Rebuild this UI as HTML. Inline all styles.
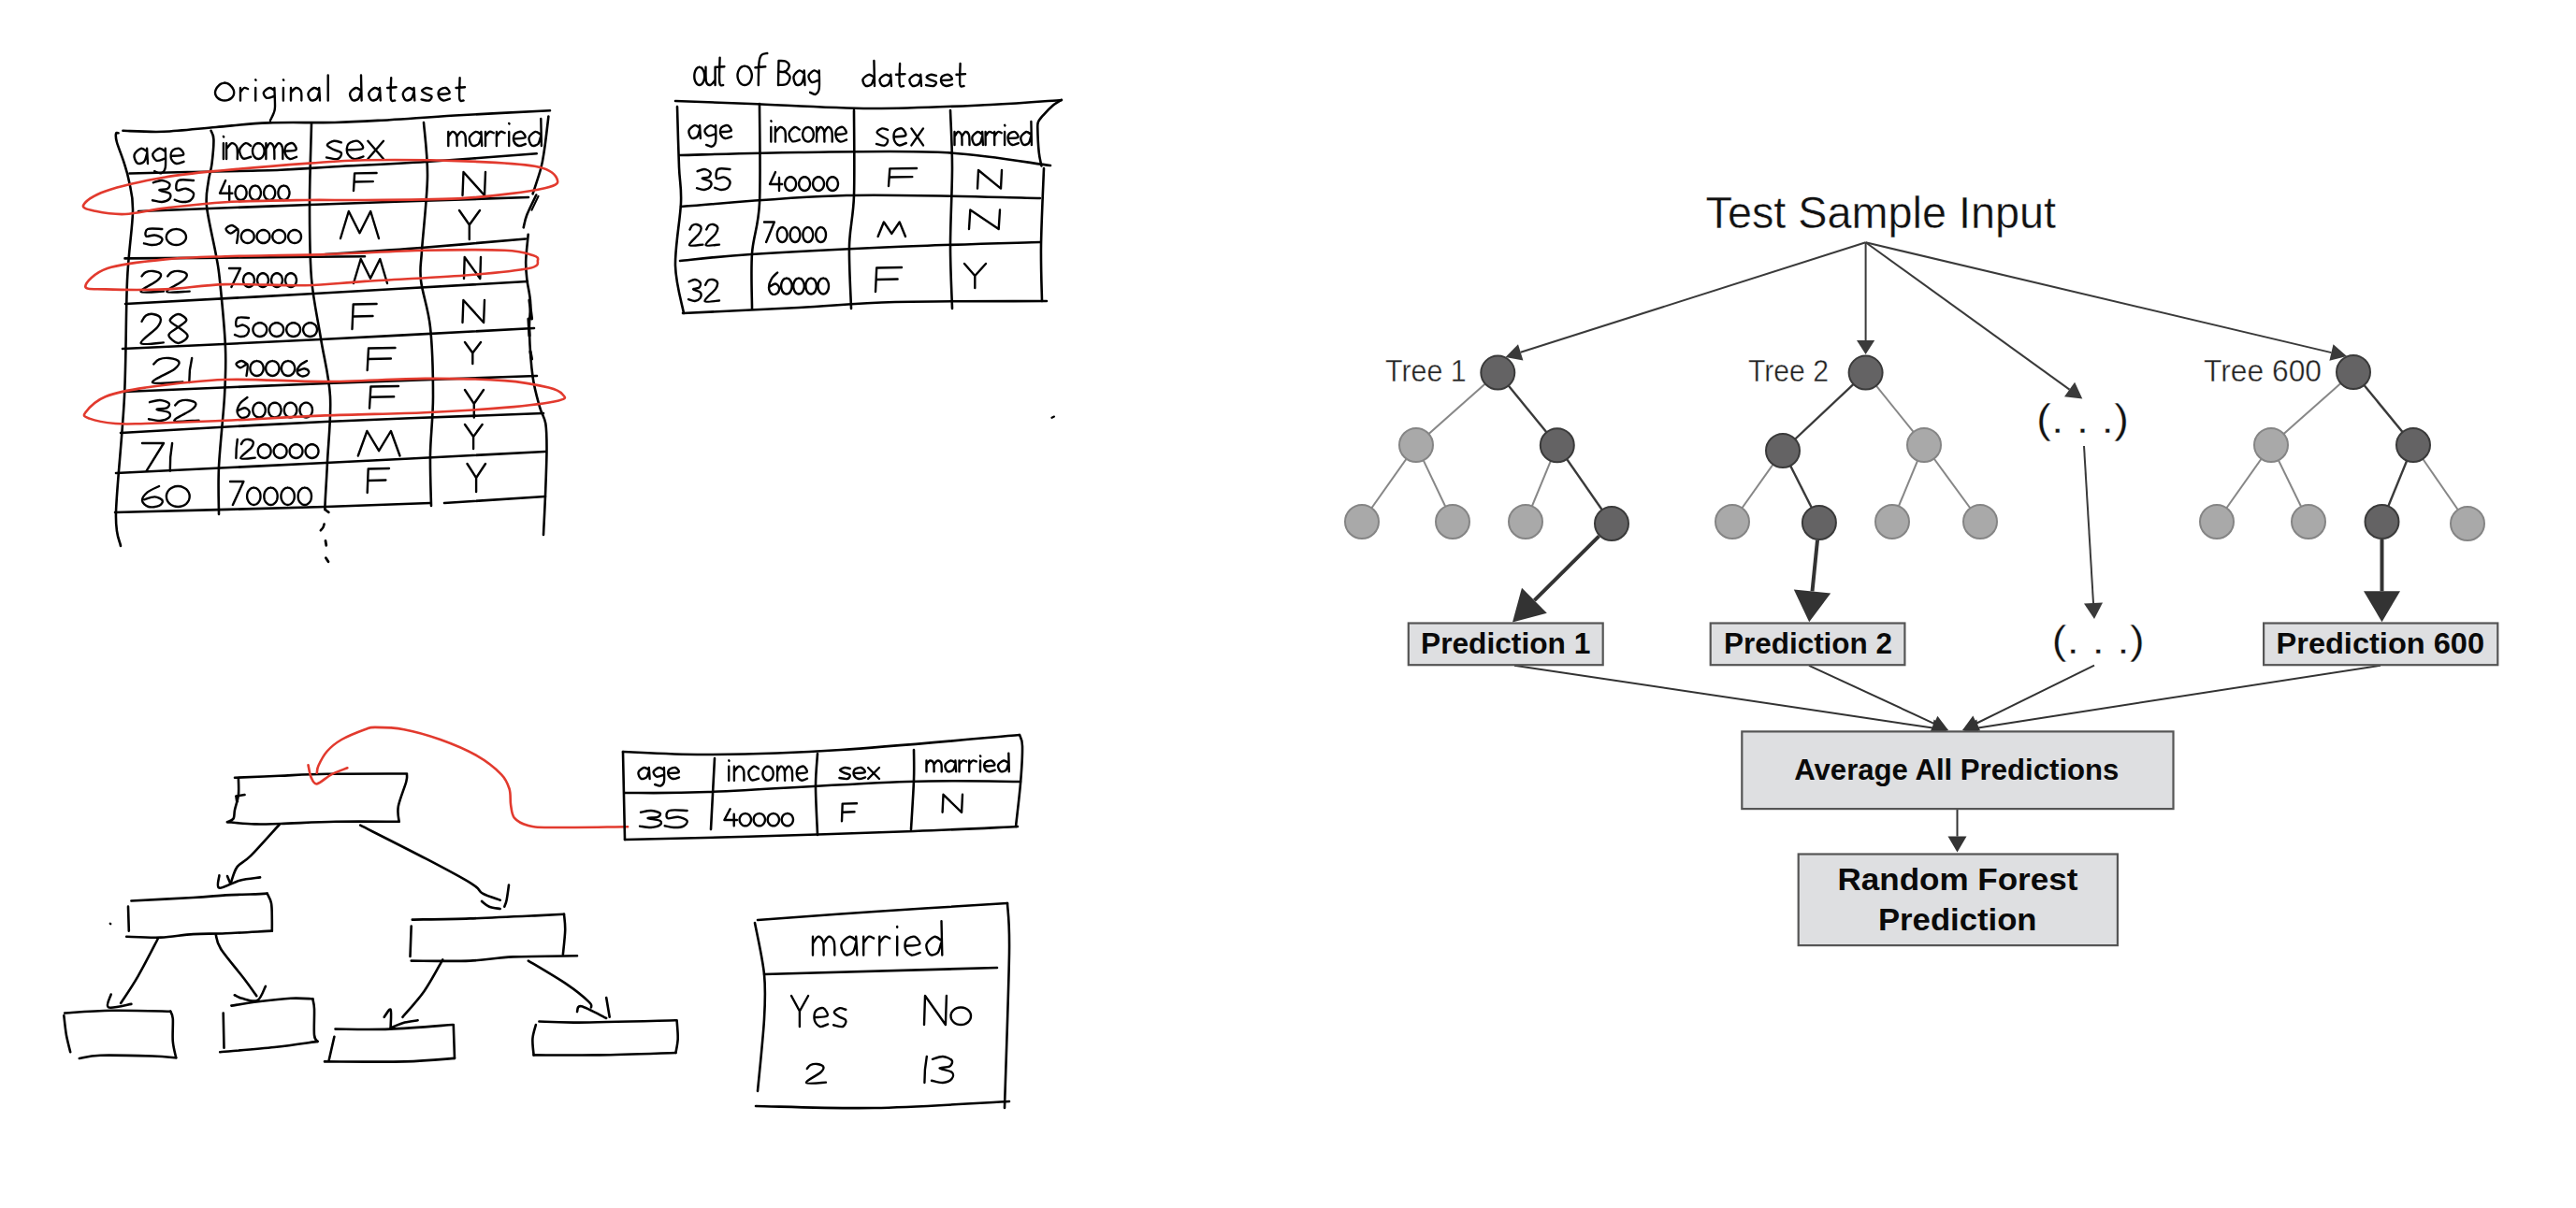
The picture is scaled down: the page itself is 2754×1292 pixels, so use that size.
<!DOCTYPE html>
<html><head><meta charset="utf-8"><style>
html,body{margin:0;padding:0;background:#fff;width:2754px;height:1292px;overflow:hidden}
svg{display:block}
</style></head><body>
<svg width="2754" height="1292" viewBox="0 0 2754 1292">
<rect width="2754" height="1292" fill="#fff"/>
<path d="M240.1,88.6C239.5,88.8 237.4,89.0 236.3,89.6C235.1,90.2 233.9,91.3 233.0,92.4C232.1,93.4 231.3,94.6 230.8,95.7C230.3,96.8 230.0,97.9 230.0,99.0C230.0,100.0 230.3,101.2 230.8,102.2C231.3,103.2 232.1,104.2 233.0,105.0C233.9,105.8 235.1,106.4 236.3,106.8C237.4,107.3 238.8,107.5 240.1,107.5C241.4,107.5 242.8,107.3 244.0,106.8C245.2,106.4 246.4,105.8 247.3,105.0C248.2,104.2 249.0,103.2 249.5,102.2C250.0,101.2 250.2,100.0 250.2,99.0C250.2,97.9 250.0,96.8 249.5,95.7C249.0,94.6 248.2,93.4 247.3,92.4C246.4,91.3 245.2,90.2 244.0,89.6C242.8,89.0 240.8,88.8 240.1,88.6M257.0,94.0L257.0,107.5M257.0,98.5C257.7,97.8 259.7,94.6 261.0,94.0C262.4,93.4 264.4,94.9 265.1,95.1M273.2,94.0 L273.2,107.5M273.2,85.2 L273.5,85.8M293.4,96.7C292.5,96.2 290.0,93.6 288.0,94.0C286.1,94.4 282.3,97.2 281.8,99.0C281.4,100.8 283.5,104.1 285.3,104.8C287.1,105.5 291.4,103.3 292.6,103.0M293.4,94.0C293.5,97.4 294.1,109.8 294.0,114.2C293.8,118.8 293.5,118.6 292.6,121.0C291.8,123.4 289.5,127.6 288.9,128.9M302.9,94.0 L302.9,107.5M302.9,85.2 L303.2,85.8M311.0,94.0L311.0,107.5M311.0,99.0C311.9,98.1 314.6,94.3 316.4,94.0C318.2,93.7 320.8,95.1 321.8,97.4C322.8,99.6 322.2,105.8 322.3,107.5M341.2,96.7C340.3,96.2 337.8,93.5 335.8,94.0C333.9,94.5 330.2,97.5 329.6,99.6C329.0,101.8 330.8,106.0 332.3,107.0C333.8,108.1 337.0,107.1 338.5,105.7C340.0,104.3 340.8,99.7 341.2,98.5M341.2,94.0L342.0,107.5M350.7,80.5 L350.7,107.5M385.8,96.7C384.9,96.2 382.3,93.5 380.4,94.0C378.4,94.5 374.7,97.5 374.2,99.6C373.6,101.8 375.4,106.0 376.9,107.0C378.3,108.1 381.6,107.1 383.1,105.7C384.6,104.3 385.3,99.7 385.8,98.5M386.0,80.5L386.6,107.5M406.0,96.7C405.1,96.2 402.6,93.5 400.6,94.0C398.7,94.5 395.0,97.5 394.4,99.6C393.8,101.8 395.6,106.0 397.1,107.0C398.6,108.1 401.8,107.1 403.3,105.7C404.8,104.3 405.6,99.7 406.0,98.5M406.0,94.0L406.8,107.5M418.2,83.2C418.1,86.9 417.2,101.7 417.9,105.7C418.6,109.8 421.5,107.2 422.2,107.5M414.1,94.0L423.6,93.3M442.5,96.7C441.6,96.2 439.0,93.5 437.1,94.0C435.1,94.5 431.4,97.5 430.9,99.6C430.3,101.8 432.1,106.0 433.6,107.0C435.0,108.1 438.3,107.1 439.8,105.7C441.3,104.3 442.0,99.7 442.5,98.5M442.5,94.0L443.3,107.5M461.4,95.1C460.5,94.9 457.7,93.7 456.0,94.0C454.3,94.3 451.2,95.9 451.1,96.9C451.0,98.0 453.7,99.3 455.4,100.3C457.1,101.3 460.8,101.8 461.4,103.0C461.9,104.2 460.5,106.9 458.7,107.5C456.9,108.1 451.9,106.6 450.6,106.4M469.2,100.8C471.0,100.6 479.0,100.8 480.3,99.6C481.5,98.5 478.5,94.6 476.8,94.0C475.0,93.4 471.3,94.8 470.0,96.2C468.7,97.8 468.5,101.1 469.2,103.0C469.9,104.9 472.1,107.0 474.1,107.5C476.0,108.0 479.7,106.0 480.8,105.7M491.6,83.2C491.6,86.9 490.7,101.7 491.3,105.7C492.0,109.8 494.9,107.2 495.6,107.5M487.5,94.0L497.0,93.3" fill="none" stroke="#000" stroke-width="2.4" stroke-linecap="round" stroke-linejoin="round"/>
<path d="M131.4,139.8C138.7,140.0 158.4,141.4 175.0,140.8C191.6,140.2 212.3,137.6 231.0,136.0C249.7,134.4 265.8,132.2 287.0,131.4C308.2,130.6 336.4,131.5 358.0,131.0C379.6,130.5 395.1,129.4 416.5,128.2C437.9,126.9 457.7,125.2 486.3,123.5C514.9,121.8 571.0,119.2 588.0,118.3" fill="none" stroke="#000" stroke-width="2.6" stroke-linecap="round" stroke-linejoin="round"/>
<path d="M126.5,142.3C126.1,142.4 124.3,141.4 124.0,143.0C123.7,144.6 123.5,146.9 124.9,152.0C126.3,157.1 130.2,166.4 132.4,173.4C134.6,180.4 136.4,185.2 138.0,194.0C139.6,202.8 142.3,208.3 142.0,226.0C141.7,243.7 137.5,267.0 136.0,300.0C134.5,333.0 135.0,382.7 133.0,424.0C131.0,465.3 124.7,521.3 124.0,548.0C123.3,574.7 128.2,578.0 129.0,584.0" fill="none" stroke="#000" stroke-width="2.6" stroke-linecap="round" stroke-linejoin="round"/>
<path d="M225.6,139.8C226.1,141.3 228.2,143.1 228.4,149.0C228.6,154.9 227.4,167.7 226.5,175.2C225.6,182.7 223.7,186.4 222.8,194.0C221.9,201.6 219.6,207.8 221.0,221.0C222.4,234.2 228.7,259.8 231.0,273.0C233.3,286.2 233.3,283.5 235.0,300.0C236.7,316.5 240.2,351.3 241.0,372.0C241.8,392.7 241.2,402.8 240.0,424.0C238.8,445.2 235.0,478.0 234.0,499.0C233.0,520.0 234.0,541.5 234.0,550.0" fill="none" stroke="#000" stroke-width="2.6" stroke-linecap="round" stroke-linejoin="round"/>
<path d="M333.0,132.0C332.7,146.5 331.0,191.3 331.0,219.0C331.0,246.7 331.0,274.2 333.0,298.0C335.0,321.8 339.7,341.0 343.0,362.0C346.3,383.0 351.8,402.0 353.0,424.0C354.2,446.0 350.9,474.7 350.0,494.0C349.1,513.3 347.8,531.5 347.5,540.0C347.2,548.5 347.4,543.7 348.0,545.0C348.6,546.3 350.8,547.4 351.4,547.9" fill="none" stroke="#000" stroke-width="2.6" stroke-linecap="round" stroke-linejoin="round"/>
<path d="M453.0,131.0C453.7,140.7 457.3,166.2 457.0,189.0C456.7,211.8 452.2,249.5 451.0,268.0C449.8,286.5 448.5,286.3 450.0,300.0C451.5,313.7 457.8,329.3 460.0,350.0C462.2,370.7 463.0,401.3 463.0,424.0C463.0,446.7 460.3,466.5 460.0,486.0C459.7,505.5 460.8,531.8 461.0,541.0" fill="none" stroke="#000" stroke-width="2.6" stroke-linecap="round" stroke-linejoin="round"/>
<path d="M586.4,124.5C585.7,130.4 583.4,150.8 582.0,160.0C580.6,169.2 580.4,172.1 578.3,180.0C576.2,187.9 571.0,202.8 569.6,207.3" fill="none" stroke="#000" stroke-width="2.6" stroke-linecap="round" stroke-linejoin="round"/>
<path d="M573.3,208.5C571.6,212.0 565.7,223.8 563.4,229.6C561.1,235.4 560.3,241.0 559.7,243.3" fill="none" stroke="#000" stroke-width="2.6" stroke-linecap="round" stroke-linejoin="round"/>
<path d="M575.6,209.8L568.4,224.7" fill="none" stroke="#000" stroke-width="2" stroke-linecap="round" stroke-linejoin="round"/>
<path d="M564.7,250.7C564.3,255.5 562.4,271.2 562.2,279.3C562.0,287.4 562.6,291.7 563.4,299.1C564.2,306.5 566.7,314.8 567.1,323.9C567.5,333.0 565.5,340.5 565.9,353.7C566.3,366.9 567.7,389.6 569.6,403.3C571.5,417.0 574.8,427.3 577.1,435.6C579.4,443.9 582.1,445.6 583.3,453.0C584.5,460.4 584.5,467.0 584.5,479.8C584.5,492.6 583.6,514.6 583.0,530.0C582.4,545.4 581.3,565.0 581.0,572.0" fill="none" stroke="#000" stroke-width="2.6" stroke-linecap="round" stroke-linejoin="round"/>
<path d="M566.0,321.0 L568.5,341.0" fill="none" stroke="#000" stroke-width="3.2" stroke-linecap="round" stroke-linejoin="round"/>
<path d="M565.0,341.0 L566.0,359.0" fill="none" stroke="#000" stroke-width="3.2" stroke-linecap="round" stroke-linejoin="round"/>
<path d="M567.0,376.0 L568.5,384.0" fill="none" stroke="#000" stroke-width="3.2" stroke-linecap="round" stroke-linejoin="round"/>
<path d="M138.5,185.5C148.8,185.2 173.1,184.6 200.0,184.0C226.9,183.4 273.7,182.7 300.0,181.7C326.3,180.7 332.0,179.6 358.0,178.2C384.0,176.8 420.1,175.3 456.0,173.0C491.9,170.7 554.1,165.8 573.7,164.3" fill="none" stroke="#000" stroke-width="2.6" stroke-linecap="round" stroke-linejoin="round"/>
<path d="M148.0,226.0C178.5,224.8 261.5,221.5 331.0,219.0C400.5,216.5 526.0,212.3 565.0,211.0" fill="none" stroke="#000" stroke-width="2.6" stroke-linecap="round" stroke-linejoin="round"/>
<path d="M133.5,276.4C154.6,276.2 217.2,275.9 260.0,275.5C302.8,275.1 368.3,274.5 390.0,274.3" fill="none" stroke="#000" stroke-width="2.6" stroke-linecap="round" stroke-linejoin="round"/>
<path d="M348.0,272.0C365.0,270.8 414.3,267.8 450.0,265.0C485.7,262.2 543.3,257.1 562.0,255.5" fill="none" stroke="#000" stroke-width="2.6" stroke-linecap="round" stroke-linejoin="round"/>
<path d="M134.0,325.0C167.7,323.2 264.3,318.0 336.0,314.0C407.7,310.0 526.0,303.2 564.0,301.0" fill="none" stroke="#000" stroke-width="2.6" stroke-linecap="round" stroke-linejoin="round"/>
<path d="M131.0,373.0C166.3,371.3 269.7,366.7 343.0,363.0C416.3,359.3 533.0,353.0 571.0,351.0" fill="none" stroke="#000" stroke-width="2.6" stroke-linecap="round" stroke-linejoin="round"/>
<path d="M132.0,419.0C168.3,417.5 276.3,412.8 350.0,410.0C423.7,407.2 536.7,403.3 574.0,402.0" fill="none" stroke="#000" stroke-width="2.6" stroke-linecap="round" stroke-linejoin="round"/>
<path d="M129.0,463.0C165.5,461.0 272.7,454.5 348.0,451.0C423.3,447.5 542.2,443.5 581.0,442.0" fill="none" stroke="#000" stroke-width="2.6" stroke-linecap="round" stroke-linejoin="round"/>
<path d="M124.0,506.0C161.3,504.2 271.5,498.8 348.0,495.0C424.5,491.2 543.8,485.0 583.0,483.0" fill="none" stroke="#000" stroke-width="2.6" stroke-linecap="round" stroke-linejoin="round"/>
<path d="M123.0,548.0C160.5,547.0 291.8,543.7 348.0,542.0C404.2,540.3 441.3,538.7 460.0,538.0" fill="none" stroke="#000" stroke-width="2.6" stroke-linecap="round" stroke-linejoin="round"/>
<path d="M475.0,538.0L583.0,531.0" fill="none" stroke="#000" stroke-width="2.6" stroke-linecap="round" stroke-linejoin="round"/>
<path d="M346.6,560.5C346.4,561.1 346.1,562.9 345.5,564.0C344.9,565.1 343.2,566.8 342.8,567.3" fill="none" stroke="#000" stroke-width="2.6" stroke-linecap="round" stroke-linejoin="round"/>
<path d="M348.0,578.4 L348.8,583.3" fill="none" stroke="#000" stroke-width="2.8" stroke-linecap="round" stroke-linejoin="round"/>
<path d="M348.4,596.7 L351.0,600.8" fill="none" stroke="#000" stroke-width="2.8" stroke-linecap="round" stroke-linejoin="round"/>
<path d="M163.8,195.3C165.4,194.9 170.2,192.8 173.1,193.0C176.0,193.2 180.2,195.0 181.2,196.4C182.2,197.9 181.0,200.6 179.2,201.7C177.4,202.9 170.0,202.5 170.3,203.3C170.6,204.2 179.4,205.3 181.2,206.8C183.1,208.3 182.6,211.0 181.2,212.6C179.9,214.1 176.2,215.7 173.1,216.0C170.1,216.3 164.7,214.5 163.0,214.2M207.0,193.0C204.3,193.0 193.7,191.3 190.8,193.0C187.8,194.7 187.8,201.9 189.1,203.3C190.5,204.8 195.9,201.2 198.9,201.7C201.8,202.3 206.2,204.7 207.0,206.8C207.8,208.9 205.8,212.6 203.7,214.2C201.7,215.7 197.7,216.1 194.8,216.0C192.0,215.9 188.1,214.1 186.7,213.7" fill="none" stroke="#000" stroke-width="2.4" stroke-linecap="round" stroke-linejoin="round"/>
<path d="M241.1,193.0 L235.0,206.7 L248.4,206.7M245.2,199.3 L245.2,214.0M257.6,198.5C257.2,198.6 256.0,198.7 255.2,199.1C254.5,199.4 253.8,200.0 253.3,200.7C252.7,201.4 252.3,202.3 252.0,203.3C251.7,204.2 251.5,205.2 251.5,206.2C251.5,207.2 251.7,208.3 252.0,209.2C252.3,210.1 252.7,211.0 253.3,211.7C253.8,212.4 254.5,213.0 255.2,213.4C256.0,213.8 256.8,214.0 257.6,214.0C258.3,214.0 259.2,213.8 259.9,213.4C260.6,213.0 261.3,212.4 261.9,211.7C262.4,211.0 262.9,210.1 263.2,209.2C263.5,208.3 263.6,207.2 263.6,206.2C263.6,205.2 263.5,204.2 263.2,203.3C262.9,202.3 262.4,201.4 261.9,200.7C261.3,200.0 260.6,199.4 259.9,199.1C259.2,198.7 258.0,198.6 257.6,198.5M272.9,198.5C272.5,198.6 271.2,198.7 270.5,199.1C269.8,199.4 269.1,200.0 268.6,200.7C268.0,201.4 267.5,202.3 267.3,203.3C267.0,204.2 266.8,205.2 266.8,206.2C266.8,207.2 267.0,208.3 267.3,209.2C267.5,210.1 268.0,211.0 268.6,211.7C269.1,212.4 269.8,213.0 270.5,213.4C271.2,213.8 272.1,214.0 272.9,214.0C273.6,214.0 274.5,213.8 275.2,213.4C275.9,213.0 276.6,212.4 277.1,211.7C277.7,211.0 278.2,210.1 278.5,209.2C278.8,208.3 278.9,207.2 278.9,206.2C278.9,205.2 278.8,204.2 278.5,203.3C278.2,202.3 277.7,201.4 277.1,200.7C276.6,200.0 275.9,199.4 275.2,199.1C274.5,198.7 273.2,198.6 272.9,198.5M288.1,198.5C287.8,198.6 286.5,198.7 285.8,199.1C285.1,199.4 284.4,200.0 283.9,200.7C283.3,201.4 282.8,202.3 282.5,203.3C282.2,204.2 282.1,205.2 282.1,206.2C282.1,207.2 282.2,208.3 282.5,209.2C282.8,210.1 283.3,211.0 283.9,211.7C284.4,212.4 285.1,213.0 285.8,213.4C286.5,213.8 287.4,214.0 288.1,214.0C288.9,214.0 289.8,213.8 290.5,213.4C291.2,213.0 291.9,212.4 292.4,211.7C293.0,211.0 293.5,210.1 293.8,209.2C294.0,208.3 294.2,207.2 294.2,206.2C294.2,205.2 294.0,204.2 293.8,203.3C293.5,202.3 293.0,201.4 292.4,200.7C291.9,200.0 291.2,199.4 290.5,199.1C289.8,198.7 288.5,198.6 288.1,198.5M303.4,198.5C303.0,198.6 301.8,198.7 301.1,199.1C300.4,199.4 299.7,200.0 299.1,200.7C298.6,201.4 298.1,202.3 297.8,203.3C297.5,204.2 297.4,205.2 297.4,206.2C297.4,207.2 297.5,208.3 297.8,209.2C298.1,210.1 298.6,211.0 299.1,211.7C299.7,212.4 300.4,213.0 301.1,213.4C301.8,213.8 302.7,214.0 303.4,214.0C304.2,214.0 305.0,213.8 305.8,213.4C306.5,213.0 307.2,212.4 307.7,211.7C308.3,211.0 308.7,210.1 309.0,209.2C309.3,208.3 309.5,207.2 309.5,206.2C309.5,205.2 309.3,204.2 309.0,203.3C308.7,202.3 308.3,201.4 307.7,200.7C307.2,200.0 306.5,199.4 305.8,199.1C305.0,198.7 303.8,198.6 303.4,198.5" fill="none" stroke="#000" stroke-width="2.4" stroke-linecap="round" stroke-linejoin="round"/>
<path d="M379.1,185.4 L378.0,204.0M379.1,185.4 L402.6,185.0M379.1,194.5 L398.8,194.1" fill="none" stroke="#000" stroke-width="2.4" stroke-linecap="round" stroke-linejoin="round"/>
<path d="M494.5,209.0 L495.5,184.0 L518.0,209.0 L519.0,184.0" fill="none" stroke="#000" stroke-width="2.4" stroke-linecap="round" stroke-linejoin="round"/>
<path d="M173.3,245.0C170.7,245.0 160.7,243.7 157.9,245.0C155.0,246.3 155.0,251.6 156.3,252.7C157.6,253.7 162.7,251.0 165.6,251.5C168.4,251.9 172.5,253.7 173.3,255.2C174.1,256.7 172.1,259.5 170.2,260.6C168.3,261.8 164.4,262.1 161.7,262.0C159.0,261.9 155.3,260.6 154.0,260.3M188.4,245.0C187.7,245.1 185.6,245.2 184.3,245.6C183.1,246.1 181.8,246.7 180.9,247.5C179.9,248.3 179.1,249.2 178.6,250.2C178.1,251.2 177.8,252.4 177.8,253.5C177.8,254.6 178.1,255.8 178.6,256.8C179.1,257.8 179.9,258.7 180.9,259.5C181.8,260.3 183.1,260.9 184.3,261.4C185.6,261.8 187.0,262.0 188.4,262.0C189.7,262.0 191.2,261.8 192.4,261.4C193.7,260.9 194.9,260.3 195.9,259.5C196.8,258.7 197.7,257.8 198.2,256.8C198.7,255.8 199.0,254.6 199.0,253.5C199.0,252.4 198.7,251.2 198.2,250.2C197.7,249.2 196.8,248.3 195.9,247.5C194.9,246.7 193.7,246.1 192.4,245.6C191.2,245.2 189.1,245.1 188.4,245.0" fill="none" stroke="#000" stroke-width="2.4" stroke-linecap="round" stroke-linejoin="round"/>
<path d="M254.4,245.2C253.3,244.5 250.1,241.1 248.0,241.0C245.8,240.9 241.8,243.4 241.6,244.8C241.3,246.2 244.4,249.4 246.6,249.6C248.7,249.7 253.2,244.0 254.4,245.8C255.5,247.5 253.4,257.6 253.2,260.0M264.7,245.9C264.3,246.0 262.9,246.1 262.1,246.5C261.2,246.8 260.4,247.4 259.8,248.0C259.2,248.6 258.6,249.5 258.3,250.3C258.0,251.1 257.8,252.1 257.8,253.0C257.8,253.9 258.0,254.8 258.3,255.7C258.6,256.5 259.2,257.3 259.8,257.9C260.4,258.6 261.2,259.1 262.1,259.5C262.9,259.8 263.8,260.0 264.7,260.0C265.6,260.0 266.6,259.8 267.4,259.5C268.2,259.1 269.0,258.6 269.7,257.9C270.3,257.3 270.8,256.5 271.2,255.7C271.5,254.8 271.7,253.9 271.7,253.0C271.7,252.1 271.5,251.1 271.2,250.3C270.8,249.5 270.3,248.6 269.7,248.0C269.0,247.4 268.2,246.8 267.4,246.5C266.6,246.1 265.2,246.0 264.7,245.9M281.5,245.9C281.1,246.0 279.7,246.1 278.8,246.5C278.0,246.8 277.2,247.4 276.6,248.0C276.0,248.6 275.4,249.5 275.1,250.3C274.7,251.1 274.5,252.1 274.5,253.0C274.5,253.9 274.7,254.8 275.1,255.7C275.4,256.5 276.0,257.3 276.6,257.9C277.2,258.6 278.0,259.1 278.8,259.5C279.7,259.8 280.6,260.0 281.5,260.0C282.4,260.0 283.3,259.8 284.2,259.5C285.0,259.1 285.8,258.6 286.4,257.9C287.0,257.3 287.6,256.5 287.9,255.7C288.3,254.8 288.5,253.9 288.5,253.0C288.5,252.1 288.3,251.1 287.9,250.3C287.6,249.5 287.0,248.6 286.4,248.0C285.8,247.4 285.0,246.8 284.2,246.5C283.3,246.1 281.9,246.0 281.5,245.9M298.3,245.9C297.8,246.0 296.4,246.1 295.6,246.5C294.8,246.8 294.0,247.4 293.3,248.0C292.7,248.6 292.2,249.5 291.8,250.3C291.5,251.1 291.3,252.1 291.3,253.0C291.3,253.9 291.5,254.8 291.8,255.7C292.2,256.5 292.7,257.3 293.3,257.9C294.0,258.6 294.8,259.1 295.6,259.5C296.4,259.8 297.4,260.0 298.3,260.0C299.2,260.0 300.1,259.8 300.9,259.5C301.8,259.1 302.6,258.6 303.2,257.9C303.8,257.3 304.4,256.5 304.7,255.7C305.0,254.8 305.2,253.9 305.2,253.0C305.2,252.1 305.0,251.1 304.7,250.3C304.4,249.5 303.8,248.6 303.2,248.0C302.6,247.4 301.8,246.8 300.9,246.5C300.1,246.1 298.7,246.0 298.3,245.9M315.0,245.9C314.6,246.0 313.2,246.1 312.4,246.5C311.6,246.8 310.7,247.4 310.1,248.0C309.5,248.6 308.9,249.5 308.6,250.3C308.3,251.1 308.1,252.1 308.1,253.0C308.1,253.9 308.3,254.8 308.6,255.7C308.9,256.5 309.5,257.3 310.1,257.9C310.7,258.6 311.6,259.1 312.4,259.5C313.2,259.8 314.2,260.0 315.0,260.0C315.9,260.0 316.9,259.8 317.7,259.5C318.5,259.1 319.3,258.6 320.0,257.9C320.6,257.3 321.1,256.5 321.5,255.7C321.8,254.8 322.0,253.9 322.0,253.0C322.0,252.1 321.8,251.1 321.5,250.3C321.1,249.5 320.6,248.6 320.0,248.0C319.3,247.4 318.5,246.8 317.7,246.5C316.9,246.1 315.5,246.0 315.0,245.9" fill="none" stroke="#000" stroke-width="2.4" stroke-linecap="round" stroke-linejoin="round"/>
<path d="M364.0,255.0 L372.8,226.0 L384.5,249.2 L396.2,226.0 L405.0,255.0" fill="none" stroke="#000" stroke-width="2.4" stroke-linecap="round" stroke-linejoin="round"/>
<path d="M491.0,225.0 L501.8,240.5 L513.0,225.0M501.8,240.5 L501.8,256.0" fill="none" stroke="#000" stroke-width="2.4" stroke-linecap="round" stroke-linejoin="round"/>
<path d="M151.5,295.5C152.2,294.8 153.9,292.0 155.9,291.1C158.0,290.2 161.2,289.6 163.9,290.0C166.6,290.4 171.2,291.7 171.9,293.3C172.6,294.9 171.9,296.8 168.3,299.9C164.8,303.0 149.5,310.1 150.6,312.0C151.7,313.9 170.9,311.6 175.0,311.6M179.2,295.5C179.9,294.8 181.6,292.0 183.6,291.1C185.7,290.2 188.9,289.6 191.6,290.0C194.3,290.4 198.9,291.7 199.6,293.3C200.3,294.9 199.6,296.8 196.0,299.9C192.5,303.0 177.2,310.1 178.3,312.0C179.4,313.9 198.6,311.6 202.7,311.6" fill="none" stroke="#000" stroke-width="2.4" stroke-linecap="round" stroke-linejoin="round"/>
<path d="M245.0,287.0 L257.0,287.0 L247.4,307.0M266.0,292.2C265.6,292.3 264.4,292.4 263.7,292.8C263.0,293.1 262.3,293.7 261.8,294.4C261.2,295.0 260.7,295.9 260.5,296.8C260.2,297.6 260.0,298.7 260.0,299.6C260.0,300.5 260.2,301.6 260.5,302.4C260.7,303.3 261.2,304.2 261.8,304.8C262.3,305.5 263.0,306.1 263.7,306.4C264.4,306.8 265.2,307.0 266.0,307.0C266.8,307.0 267.6,306.8 268.3,306.4C269.0,306.1 269.7,305.5 270.2,304.8C270.8,304.2 271.3,303.3 271.5,302.4C271.8,301.6 272.0,300.5 272.0,299.6C272.0,298.7 271.8,297.6 271.5,296.8C271.3,295.9 270.8,295.0 270.2,294.4C269.7,293.7 269.0,293.1 268.3,292.8C267.6,292.4 266.4,292.3 266.0,292.2M281.0,292.2C280.6,292.3 279.4,292.4 278.7,292.8C278.0,293.1 277.3,293.7 276.8,294.4C276.2,295.0 275.7,295.9 275.5,296.8C275.2,297.6 275.0,298.7 275.0,299.6C275.0,300.5 275.2,301.6 275.5,302.4C275.7,303.3 276.2,304.2 276.8,304.8C277.3,305.5 278.0,306.1 278.7,306.4C279.4,306.8 280.2,307.0 281.0,307.0C281.8,307.0 282.6,306.8 283.3,306.4C284.0,306.1 284.7,305.5 285.2,304.8C285.8,304.2 286.3,303.3 286.5,302.4C286.8,301.6 287.0,300.5 287.0,299.6C287.0,298.7 286.8,297.6 286.5,296.8C286.3,295.9 285.8,295.0 285.2,294.4C284.7,293.7 284.0,293.1 283.3,292.8C282.6,292.4 281.4,292.3 281.0,292.2M296.0,292.2C295.6,292.3 294.4,292.4 293.7,292.8C293.0,293.1 292.3,293.7 291.8,294.4C291.2,295.0 290.7,295.9 290.5,296.8C290.2,297.6 290.0,298.7 290.0,299.6C290.0,300.5 290.2,301.6 290.5,302.4C290.7,303.3 291.2,304.2 291.8,304.8C292.3,305.5 293.0,306.1 293.7,306.4C294.4,306.8 295.2,307.0 296.0,307.0C296.8,307.0 297.6,306.8 298.3,306.4C299.0,306.1 299.7,305.5 300.2,304.8C300.8,304.2 301.3,303.3 301.5,302.4C301.8,301.6 302.0,300.5 302.0,299.6C302.0,298.7 301.8,297.6 301.5,296.8C301.3,295.9 300.8,295.0 300.2,294.4C299.7,293.7 299.0,293.1 298.3,292.8C297.6,292.4 296.4,292.3 296.0,292.2M311.0,292.2C310.6,292.3 309.4,292.4 308.7,292.8C308.0,293.1 307.3,293.7 306.8,294.4C306.2,295.0 305.7,295.9 305.5,296.8C305.2,297.6 305.0,298.7 305.0,299.6C305.0,300.5 305.2,301.6 305.5,302.4C305.7,303.3 306.2,304.2 306.8,304.8C307.3,305.5 308.0,306.1 308.7,306.4C309.4,306.8 310.2,307.0 311.0,307.0C311.8,307.0 312.6,306.8 313.3,306.4C314.0,306.1 314.7,305.5 315.2,304.8C315.8,304.2 316.3,303.3 316.5,302.4C316.8,301.6 317.0,300.5 317.0,299.6C317.0,298.7 316.8,297.6 316.5,296.8C316.3,295.9 315.8,295.0 315.2,294.4C314.7,293.7 314.0,293.1 313.3,292.8C312.6,292.4 311.4,292.3 311.0,292.2" fill="none" stroke="#000" stroke-width="2.4" stroke-linecap="round" stroke-linejoin="round"/>
<path d="M378.0,303.0 L385.7,277.0 L396.0,297.8 L406.3,277.0 L414.0,303.0" fill="none" stroke="#000" stroke-width="2.4" stroke-linecap="round" stroke-linejoin="round"/>
<path d="M496.0,298.0 L496.7,275.0 L513.3,298.0 L514.0,275.0" fill="none" stroke="#000" stroke-width="2.4" stroke-linecap="round" stroke-linejoin="round"/>
<path d="M151.5,343.8C152.2,342.7 153.8,338.8 155.9,337.6C157.9,336.3 161.2,335.5 163.8,336.0C166.5,336.5 171.0,338.3 171.7,340.6C172.5,343.0 171.7,345.6 168.2,349.9C164.7,354.3 149.5,364.3 150.6,367.0C151.7,369.7 170.8,366.5 174.8,366.4M190.5,349.9C189.0,348.8 181.7,345.1 181.7,342.8C181.7,340.5 187.6,336.1 190.5,336.0C193.4,335.9 199.3,339.9 199.3,342.2C199.3,344.5 193.6,347.3 190.5,349.9C187.3,352.6 180.4,355.5 180.4,358.3C180.4,361.2 187.1,366.8 190.5,367.0C193.9,367.2 200.6,362.1 200.6,359.2C200.6,356.4 192.2,351.5 190.5,349.9" fill="none" stroke="#000" stroke-width="2.4" stroke-linecap="round" stroke-linejoin="round"/>
<path d="M265.9,340.0C263.9,340.0 256.2,338.5 254.0,340.0C251.8,341.5 251.8,347.7 252.8,349.0C253.8,350.3 257.8,347.1 259.9,347.6C262.1,348.1 265.3,350.2 265.9,352.0C266.5,353.8 265.0,357.1 263.5,358.4C262.0,359.7 259.0,360.1 257.0,360.0C254.9,359.9 252.0,358.3 251.0,358.0M277.8,345.2C277.4,345.3 275.9,345.4 275.0,345.8C274.1,346.1 273.2,346.7 272.6,347.4C271.9,348.0 271.3,348.9 271.0,349.8C270.6,350.6 270.4,351.7 270.4,352.6C270.4,353.5 270.6,354.6 271.0,355.4C271.3,356.3 271.9,357.2 272.6,357.8C273.2,358.5 274.1,359.1 275.0,359.4C275.9,359.8 276.9,360.0 277.8,360.0C278.8,360.0 279.8,359.8 280.7,359.4C281.6,359.1 282.4,358.5 283.1,357.8C283.8,357.2 284.4,356.3 284.7,355.4C285.1,354.6 285.3,353.5 285.3,352.6C285.3,351.7 285.1,350.6 284.7,349.8C284.4,348.9 283.8,348.0 283.1,347.4C282.4,346.7 281.6,346.1 280.7,345.8C279.8,345.4 278.3,345.3 277.8,345.2M295.7,345.2C295.3,345.3 293.8,345.4 292.9,345.8C292.0,346.1 291.1,346.7 290.5,347.4C289.8,348.0 289.2,348.9 288.9,349.8C288.5,350.6 288.3,351.7 288.3,352.6C288.3,353.5 288.5,354.6 288.9,355.4C289.2,356.3 289.8,357.2 290.5,357.8C291.1,358.5 292.0,359.1 292.9,359.4C293.8,359.8 294.8,360.0 295.7,360.0C296.7,360.0 297.7,359.8 298.6,359.4C299.5,359.1 300.3,358.5 301.0,357.8C301.7,357.2 302.3,356.3 302.6,355.4C303.0,354.6 303.2,353.5 303.2,352.6C303.2,351.7 303.0,350.6 302.6,349.8C302.3,348.9 301.7,348.0 301.0,347.4C300.3,346.7 299.5,346.1 298.6,345.8C297.7,345.4 296.2,345.3 295.7,345.2M313.6,345.2C313.2,345.3 311.7,345.4 310.8,345.8C309.9,346.1 309.1,346.7 308.4,347.4C307.7,348.0 307.1,348.9 306.8,349.8C306.4,350.6 306.2,351.7 306.2,352.6C306.2,353.5 306.4,354.6 306.8,355.4C307.1,356.3 307.7,357.2 308.4,357.8C309.1,358.5 309.9,359.1 310.8,359.4C311.7,359.8 312.7,360.0 313.6,360.0C314.6,360.0 315.6,359.8 316.5,359.4C317.4,359.1 318.2,358.5 318.9,357.8C319.6,357.2 320.2,356.3 320.5,355.4C320.9,354.6 321.1,353.5 321.1,352.6C321.1,351.7 320.9,350.6 320.5,349.8C320.2,348.9 319.6,348.0 318.9,347.4C318.2,346.7 317.4,346.1 316.5,345.8C315.6,345.4 314.1,345.3 313.6,345.2M331.5,345.2C331.1,345.3 329.6,345.4 328.7,345.8C327.8,346.1 327.0,346.7 326.3,347.4C325.6,348.0 325.0,348.9 324.7,349.8C324.3,350.6 324.1,351.7 324.1,352.6C324.1,353.5 324.3,354.6 324.7,355.4C325.0,356.3 325.6,357.2 326.3,357.8C327.0,358.5 327.8,359.1 328.7,359.4C329.6,359.8 330.6,360.0 331.5,360.0C332.5,360.0 333.5,359.8 334.4,359.4C335.3,359.1 336.1,358.5 336.8,357.8C337.5,357.2 338.1,356.3 338.4,355.4C338.8,354.6 339.0,353.5 339.0,352.6C339.0,351.7 338.8,350.6 338.4,349.8C338.1,348.9 337.5,348.0 336.8,347.4C336.1,346.7 335.3,346.1 334.4,345.8C333.5,345.4 332.0,345.3 331.5,345.2" fill="none" stroke="#000" stroke-width="2.4" stroke-linecap="round" stroke-linejoin="round"/>
<path d="M377.7,325.5 L376.5,352.0M377.7,325.5 L402.6,325.0M377.7,338.5 L398.5,338.0" fill="none" stroke="#000" stroke-width="2.4" stroke-linecap="round" stroke-linejoin="round"/>
<path d="M494.5,345.0 L495.4,321.0 L517.1,345.0 L518.0,321.0" fill="none" stroke="#000" stroke-width="2.4" stroke-linecap="round" stroke-linejoin="round"/>
<path d="M164.2,389.5C165.2,388.6 167.3,385.4 170.1,384.3C172.8,383.2 177.1,382.6 180.7,383.0C184.2,383.4 190.3,384.9 191.3,386.9C192.3,388.8 191.3,391.0 186.6,394.7C181.9,398.4 161.5,406.7 163.0,409.0C164.5,411.3 190.0,408.6 195.4,408.5M205.2,383.0 L202.9,396.0 L202.3,409.0" fill="none" stroke="#000" stroke-width="2.4" stroke-linecap="round" stroke-linejoin="round"/>
<path d="M264.5,389.5C263.5,388.9 260.5,386.1 258.5,386.0C256.5,385.9 252.7,388.0 252.5,389.2C252.3,390.4 255.2,393.1 257.2,393.2C259.2,393.3 263.5,388.5 264.5,390.0C265.5,391.5 263.6,400.0 263.5,402.0M274.6,386.0C274.1,386.1 272.7,386.2 271.8,386.6C271.0,387.0 270.2,387.6 269.5,388.3C268.9,389.1 268.3,390.0 268.0,390.9C267.6,391.9 267.4,393.0 267.4,394.0C267.4,395.0 267.6,396.1 268.0,397.1C268.3,398.0 268.9,398.9 269.5,399.7C270.2,400.4 271.0,401.0 271.8,401.4C272.7,401.8 273.7,402.0 274.6,402.0C275.5,402.0 276.5,401.8 277.3,401.4C278.2,401.0 279.0,400.4 279.6,399.7C280.3,398.9 280.8,398.0 281.2,397.1C281.5,396.1 281.7,395.0 281.7,394.0C281.7,393.0 281.5,391.9 281.2,390.9C280.8,390.0 280.3,389.1 279.6,388.3C279.0,387.6 278.2,387.0 277.3,386.6C276.5,386.2 275.0,386.1 274.6,386.0M291.3,386.0C290.8,386.1 289.4,386.2 288.6,386.6C287.7,387.0 286.9,387.6 286.2,388.3C285.6,389.1 285.0,390.0 284.7,390.9C284.3,391.9 284.1,393.0 284.1,394.0C284.1,395.0 284.3,396.1 284.7,397.1C285.0,398.0 285.6,398.9 286.2,399.7C286.9,400.4 287.7,401.0 288.6,401.4C289.4,401.8 290.4,402.0 291.3,402.0C292.2,402.0 293.2,401.8 294.0,401.4C294.9,401.0 295.7,400.4 296.4,399.7C297.0,398.9 297.6,398.0 297.9,397.1C298.3,396.1 298.5,395.0 298.5,394.0C298.5,393.0 298.3,391.9 297.9,390.9C297.6,390.0 297.0,389.1 296.4,388.3C295.7,387.6 294.9,387.0 294.0,386.6C293.2,386.2 291.8,386.1 291.3,386.0M308.0,386.0C307.6,386.1 306.1,386.2 305.3,386.6C304.4,387.0 303.6,387.6 303.0,388.3C302.3,389.1 301.8,390.0 301.4,390.9C301.1,391.9 300.9,393.0 300.9,394.0C300.9,395.0 301.1,396.1 301.4,397.1C301.8,398.0 302.3,398.9 303.0,399.7C303.6,400.4 304.4,401.0 305.3,401.4C306.1,401.8 307.1,402.0 308.0,402.0C308.9,402.0 309.9,401.8 310.8,401.4C311.6,401.0 312.4,400.4 313.1,399.7C313.7,398.9 314.3,398.0 314.6,397.1C315.0,396.1 315.2,395.0 315.2,394.0C315.2,393.0 315.0,391.9 314.6,390.9C314.3,390.0 313.7,389.1 313.1,388.3C312.4,387.6 311.6,387.0 310.8,386.6C309.9,386.2 308.5,386.1 308.0,386.0M328.0,386.0C326.8,386.8 322.4,388.9 320.7,390.8C319.0,392.7 317.5,395.3 317.6,397.2C317.7,399.1 319.8,401.3 321.5,402.0C323.2,402.7 326.6,402.0 328.0,401.2C329.4,400.4 330.5,398.3 330.1,397.2C329.6,396.1 327.3,394.5 325.4,394.3C323.5,394.2 320.0,396.1 318.9,396.4" fill="none" stroke="#000" stroke-width="2.4" stroke-linecap="round" stroke-linejoin="round"/>
<path d="M394.0,372.5 L392.7,396.0M394.0,372.5 L422.5,372.0M394.0,384.0 L417.9,383.5" fill="none" stroke="#000" stroke-width="2.4" stroke-linecap="round" stroke-linejoin="round"/>
<path d="M497.0,366.0 L505.3,377.5 L514.0,366.0M505.3,377.5 L505.3,389.0" fill="none" stroke="#000" stroke-width="2.4" stroke-linecap="round" stroke-linejoin="round"/>
<path d="M160.0,430.2C161.8,429.8 167.5,427.8 171.0,428.0C174.4,428.2 179.4,429.9 180.6,431.3C181.8,432.7 180.3,435.3 178.2,436.4C176.0,437.5 167.2,437.1 167.6,437.9C168.0,438.7 178.4,439.7 180.6,441.2C182.7,442.7 182.2,445.2 180.6,446.7C179.0,448.2 174.6,449.7 171.0,450.0C167.4,450.3 161.0,448.5 159.0,448.2M187.2,433.5C188.0,432.8 189.8,430.0 192.0,429.1C194.2,428.2 197.7,427.6 200.6,428.0C203.5,428.4 208.4,429.7 209.2,431.3C210.0,432.9 209.2,434.8 205.4,437.9C201.6,441.0 185.1,448.1 186.3,450.0C187.4,451.9 208.2,449.6 212.6,449.6" fill="none" stroke="#000" stroke-width="2.4" stroke-linecap="round" stroke-linejoin="round"/>
<path d="M264.4,425.0C263.1,426.1 258.6,428.9 256.8,431.4C255.0,434.0 253.5,437.5 253.6,440.1C253.7,442.6 255.8,445.6 257.6,446.5C259.4,447.4 262.9,446.5 264.4,445.4C265.9,444.4 267.0,441.6 266.6,440.1C266.1,438.5 263.6,436.4 261.7,436.2C259.8,436.0 256.1,438.5 254.9,439.0M277.1,430.6C276.6,430.7 275.3,430.8 274.5,431.2C273.7,431.6 272.9,432.2 272.3,432.9C271.7,433.6 271.2,434.6 270.8,435.5C270.5,436.4 270.3,437.5 270.3,438.5C270.3,439.6 270.5,440.7 270.8,441.6C271.2,442.5 271.7,443.5 272.3,444.2C272.9,444.9 273.7,445.5 274.5,445.9C275.3,446.3 276.2,446.5 277.1,446.5C277.9,446.5 278.9,446.3 279.7,445.9C280.5,445.5 281.2,444.9 281.8,444.2C282.5,443.5 283.0,442.5 283.3,441.6C283.6,440.7 283.8,439.6 283.8,438.5C283.8,437.5 283.6,436.4 283.3,435.5C283.0,434.6 282.5,433.6 281.8,432.9C281.2,432.2 280.5,431.6 279.7,431.2C278.9,430.8 277.5,430.7 277.1,430.6M293.8,430.6C293.4,430.7 292.0,430.8 291.2,431.2C290.4,431.6 289.6,432.2 289.0,432.9C288.4,433.6 287.9,434.6 287.6,435.5C287.2,436.4 287.1,437.5 287.1,438.5C287.1,439.6 287.2,440.7 287.6,441.6C287.9,442.5 288.4,443.5 289.0,444.2C289.6,444.9 290.4,445.5 291.2,445.9C292.0,446.3 292.9,446.5 293.8,446.5C294.7,446.5 295.6,446.3 296.4,445.9C297.2,445.5 298.0,444.9 298.6,444.2C299.2,443.5 299.7,442.5 300.0,441.6C300.4,440.7 300.6,439.6 300.6,438.5C300.6,437.5 300.4,436.4 300.0,435.5C299.7,434.6 299.2,433.6 298.6,432.9C298.0,432.2 297.2,431.6 296.4,431.2C295.6,430.8 294.2,430.7 293.8,430.6M310.5,430.6C310.1,430.7 308.7,430.8 307.9,431.2C307.1,431.6 306.4,432.2 305.8,432.9C305.1,433.6 304.6,434.6 304.3,435.5C304.0,436.4 303.8,437.5 303.8,438.5C303.8,439.6 304.0,440.7 304.3,441.6C304.6,442.5 305.1,443.5 305.8,444.2C306.4,444.9 307.1,445.5 307.9,445.9C308.7,446.3 309.7,446.5 310.5,446.5C311.4,446.5 312.3,446.3 313.1,445.9C313.9,445.5 314.7,444.9 315.3,444.2C315.9,443.5 316.4,442.5 316.8,441.6C317.1,440.7 317.3,439.6 317.3,438.5C317.3,437.5 317.1,436.4 316.8,435.5C316.4,434.6 315.9,433.6 315.3,432.9C314.7,432.2 313.9,431.6 313.1,431.2C312.3,430.8 311.0,430.7 310.5,430.6M327.3,430.6C326.8,430.7 325.5,430.8 324.7,431.2C323.9,431.6 323.1,432.2 322.5,432.9C321.9,433.6 321.3,434.6 321.0,435.5C320.7,436.4 320.5,437.5 320.5,438.5C320.5,439.6 320.7,440.7 321.0,441.6C321.3,442.5 321.9,443.5 322.5,444.2C323.1,444.9 323.9,445.5 324.7,445.9C325.5,446.3 326.4,446.5 327.3,446.5C328.1,446.5 329.0,446.3 329.8,445.9C330.6,445.5 331.4,444.9 332.0,444.2C332.6,443.5 333.2,442.5 333.5,441.6C333.8,440.7 334.0,439.6 334.0,438.5C334.0,437.5 333.8,436.4 333.5,435.5C333.2,434.6 332.6,433.6 332.0,432.9C331.4,432.2 330.6,431.6 329.8,431.2C329.0,430.8 327.7,430.7 327.3,430.6" fill="none" stroke="#000" stroke-width="2.4" stroke-linecap="round" stroke-linejoin="round"/>
<path d="M396.4,413.5 L395.0,436.6M396.4,413.5 L426.0,413.0M396.4,424.8 L421.2,424.3" fill="none" stroke="#000" stroke-width="2.4" stroke-linecap="round" stroke-linejoin="round"/>
<path d="M497.0,417.0 L506.8,431.8 L517.0,417.0M506.8,431.8 L506.8,446.5" fill="none" stroke="#000" stroke-width="2.4" stroke-linecap="round" stroke-linejoin="round"/>
<path d="M152.0,474.0 L175.0,474.0 L156.6,503.6M184.1,474.0 L182.2,488.8 L181.8,503.6" fill="none" stroke="#000" stroke-width="2.4" stroke-linecap="round" stroke-linejoin="round"/>
<path d="M253.8,470.0 L252.7,480.0 L252.4,490.0M257.9,475.0C258.4,474.3 259.4,471.8 260.7,471.0C262.0,470.2 264.0,469.7 265.7,470.0C267.4,470.3 270.3,471.5 270.7,473.0C271.2,474.5 270.7,476.2 268.5,479.0C266.3,481.8 256.7,488.2 257.3,490.0C258.0,491.8 270.1,489.7 272.7,489.6M282.7,475.2C282.2,475.3 280.8,475.4 280.0,475.8C279.2,476.1 278.4,476.7 277.7,477.4C277.1,478.0 276.6,478.9 276.2,479.8C275.9,480.6 275.7,481.7 275.7,482.6C275.7,483.5 275.9,484.6 276.2,485.4C276.6,486.3 277.1,487.2 277.7,487.8C278.4,488.5 279.2,489.1 280.0,489.4C280.8,489.8 281.8,490.0 282.7,490.0C283.6,490.0 284.5,489.8 285.3,489.4C286.2,489.1 287.0,488.5 287.6,487.8C288.2,487.2 288.8,486.3 289.1,485.4C289.5,484.6 289.6,483.5 289.6,482.6C289.6,481.7 289.5,480.6 289.1,479.8C288.8,478.9 288.2,478.0 287.6,477.4C287.0,476.7 286.2,476.1 285.3,475.8C284.5,475.4 283.1,475.3 282.7,475.2M299.6,475.2C299.2,475.3 297.8,475.4 297.0,475.8C296.1,476.1 295.3,476.7 294.7,477.4C294.1,478.0 293.5,478.9 293.2,479.8C292.8,480.6 292.6,481.7 292.6,482.6C292.6,483.5 292.8,484.6 293.2,485.4C293.5,486.3 294.1,487.2 294.7,487.8C295.3,488.5 296.1,489.1 297.0,489.4C297.8,489.8 298.7,490.0 299.6,490.0C300.5,490.0 301.5,489.8 302.3,489.4C303.1,489.1 303.9,488.5 304.6,487.8C305.2,487.2 305.7,486.3 306.1,485.4C306.4,484.6 306.6,483.5 306.6,482.6C306.6,481.7 306.4,480.6 306.1,479.8C305.7,478.9 305.2,478.0 304.6,477.4C303.9,476.7 303.1,476.1 302.3,475.8C301.5,475.4 300.1,475.3 299.6,475.2M316.6,475.2C316.1,475.3 314.7,475.4 313.9,475.8C313.1,476.1 312.3,476.7 311.6,477.4C311.0,478.0 310.5,478.9 310.1,479.8C309.8,480.6 309.6,481.7 309.6,482.6C309.6,483.5 309.8,484.6 310.1,485.4C310.5,486.3 311.0,487.2 311.6,487.8C312.3,488.5 313.1,489.1 313.9,489.4C314.7,489.8 315.7,490.0 316.6,490.0C317.5,490.0 318.4,489.8 319.2,489.4C320.1,489.1 320.9,488.5 321.5,487.8C322.1,487.2 322.7,486.3 323.0,485.4C323.4,484.6 323.5,483.5 323.5,482.6C323.5,481.7 323.4,480.6 323.0,479.8C322.7,478.9 322.1,478.0 321.5,477.4C320.9,476.7 320.1,476.1 319.2,475.8C318.4,475.4 317.0,475.3 316.6,475.2M333.5,475.2C333.1,475.3 331.7,475.4 330.9,475.8C330.0,476.1 329.2,476.7 328.6,477.4C328.0,478.0 327.4,478.9 327.1,479.8C326.7,480.6 326.5,481.7 326.5,482.6C326.5,483.5 326.7,484.6 327.1,485.4C327.4,486.3 328.0,487.2 328.6,487.8C329.2,488.5 330.0,489.1 330.9,489.4C331.7,489.8 332.6,490.0 333.5,490.0C334.4,490.0 335.4,489.8 336.2,489.4C337.0,489.1 337.8,488.5 338.5,487.8C339.1,487.2 339.6,486.3 340.0,485.4C340.3,484.6 340.5,483.5 340.5,482.6C340.5,481.7 340.3,480.6 340.0,479.8C339.6,478.9 339.1,478.0 338.5,477.4C337.8,476.7 337.0,476.1 336.2,475.8C335.4,475.4 334.0,475.3 333.5,475.2" fill="none" stroke="#000" stroke-width="2.4" stroke-linecap="round" stroke-linejoin="round"/>
<path d="M382.8,487.5 L392.4,461.0 L405.1,482.2 L417.9,461.0 L427.5,487.5" fill="none" stroke="#000" stroke-width="2.4" stroke-linecap="round" stroke-linejoin="round"/>
<path d="M497.0,454.0 L506.1,467.0 L515.6,454.0M506.1,467.0 L506.1,480.0" fill="none" stroke="#000" stroke-width="2.4" stroke-linecap="round" stroke-linejoin="round"/>
<path d="M170.1,520.0C168.0,521.1 160.4,524.0 157.4,526.6C154.4,529.2 151.8,532.8 152.0,535.4C152.2,538.0 155.8,541.1 158.8,542.0C161.8,542.9 167.6,542.0 170.1,540.9C172.5,539.8 174.4,537.0 173.7,535.4C172.9,533.8 168.8,531.6 165.5,531.4C162.3,531.3 156.1,533.8 154.3,534.3M190.3,520.0C189.5,520.1 187.0,520.3 185.5,520.8C184.1,521.4 182.6,522.2 181.5,523.2C180.4,524.2 179.4,525.5 178.8,526.8C178.2,528.1 177.9,529.6 177.9,531.0C177.9,532.4 178.2,533.9 178.8,535.2C179.4,536.5 180.4,537.8 181.5,538.8C182.6,539.8 184.1,540.6 185.5,541.2C187.0,541.7 188.7,542.0 190.3,542.0C191.9,542.0 193.6,541.7 195.0,541.2C196.5,540.6 197.9,539.8 199.1,538.8C200.2,537.8 201.1,536.5 201.8,535.2C202.4,533.9 202.7,532.4 202.7,531.0C202.7,529.6 202.4,528.1 201.8,526.8C201.1,525.5 200.2,524.2 199.1,523.2C197.9,522.2 196.5,521.4 195.0,520.8C193.6,520.3 191.1,520.1 190.3,520.0" fill="none" stroke="#000" stroke-width="2.4" stroke-linecap="round" stroke-linejoin="round"/>
<path d="M246.0,515.0 L260.4,515.0 L248.9,540.0M271.3,521.5C270.9,521.6 269.4,521.8 268.6,522.2C267.7,522.7 266.9,523.4 266.3,524.2C265.6,525.0 265.0,526.1 264.7,527.2C264.3,528.3 264.1,529.6 264.1,530.8C264.1,531.9 264.3,533.2 264.7,534.3C265.0,535.4 265.6,536.5 266.3,537.3C266.9,538.1 267.7,538.8 268.6,539.3C269.4,539.7 270.4,540.0 271.3,540.0C272.3,540.0 273.3,539.7 274.1,539.3C275.0,538.8 275.8,538.1 276.4,537.3C277.1,536.5 277.7,535.4 278.0,534.3C278.4,533.2 278.5,531.9 278.5,530.8C278.5,529.6 278.4,528.3 278.0,527.2C277.7,526.1 277.1,525.0 276.4,524.2C275.8,523.4 275.0,522.7 274.1,522.2C273.3,521.8 271.8,521.6 271.3,521.5M289.5,521.5C289.0,521.6 287.6,521.8 286.7,522.2C285.9,522.7 285.1,523.4 284.4,524.2C283.8,525.0 283.2,526.1 282.8,527.2C282.5,528.3 282.3,529.6 282.3,530.8C282.3,531.9 282.5,533.2 282.8,534.3C283.2,535.4 283.8,536.5 284.4,537.3C285.1,538.1 285.9,538.8 286.7,539.3C287.6,539.7 288.6,540.0 289.5,540.0C290.4,540.0 291.4,539.7 292.3,539.3C293.1,538.8 293.9,538.1 294.6,537.3C295.2,536.5 295.8,535.4 296.2,534.3C296.5,533.2 296.7,531.9 296.7,530.8C296.7,529.6 296.5,528.3 296.2,527.2C295.8,526.1 295.2,525.0 294.6,524.2C293.9,523.4 293.1,522.7 292.3,522.2C291.4,521.8 290.0,521.6 289.5,521.5M307.6,521.5C307.2,521.6 305.7,521.8 304.9,522.2C304.0,522.7 303.2,523.4 302.6,524.2C301.9,525.0 301.3,526.1 301.0,527.2C300.6,528.3 300.4,529.6 300.4,530.8C300.4,531.9 300.6,533.2 301.0,534.3C301.3,535.4 301.9,536.5 302.6,537.3C303.2,538.1 304.0,538.8 304.9,539.3C305.7,539.7 306.7,540.0 307.6,540.0C308.6,540.0 309.6,539.7 310.4,539.3C311.3,538.8 312.1,538.1 312.7,537.3C313.4,536.5 314.0,535.4 314.3,534.3C314.7,533.2 314.8,531.9 314.8,530.8C314.8,529.6 314.7,528.3 314.3,527.2C314.0,526.1 313.4,525.0 312.7,524.2C312.1,523.4 311.3,522.7 310.4,522.2C309.6,521.8 308.1,521.6 307.6,521.5M325.8,521.5C325.3,521.6 323.9,521.8 323.0,522.2C322.2,522.7 321.4,523.4 320.7,524.2C320.1,525.0 319.5,526.1 319.1,527.2C318.8,528.3 318.6,529.6 318.6,530.8C318.6,531.9 318.8,533.2 319.1,534.3C319.5,535.4 320.1,536.5 320.7,537.3C321.4,538.1 322.2,538.8 323.0,539.3C323.9,539.7 324.9,540.0 325.8,540.0C326.7,540.0 327.7,539.7 328.6,539.3C329.4,538.8 330.2,538.1 330.9,537.3C331.5,536.5 332.1,535.4 332.5,534.3C332.8,533.2 333.0,531.9 333.0,530.8C333.0,529.6 332.8,528.3 332.5,527.2C332.1,526.1 331.5,525.0 330.9,524.2C330.2,523.4 329.4,522.7 328.6,522.2C327.7,521.8 326.3,521.6 325.8,521.5" fill="none" stroke="#000" stroke-width="2.4" stroke-linecap="round" stroke-linejoin="round"/>
<path d="M393.7,501.5 L392.7,527.0M393.7,501.5 L416.0,501.0M393.7,514.0 L412.4,513.5" fill="none" stroke="#000" stroke-width="2.4" stroke-linecap="round" stroke-linejoin="round"/>
<path d="M499.5,496.0 L509.1,511.0 L519.0,496.0M509.1,511.0 L509.1,526.0" fill="none" stroke="#000" stroke-width="2.4" stroke-linecap="round" stroke-linejoin="round"/>
<path d="M157.1,162.0C156.0,161.5 153.1,158.2 150.8,158.8C148.6,159.4 144.3,162.9 143.6,165.6C142.9,168.2 145.0,173.2 146.8,174.5C148.5,175.7 152.2,174.6 154.0,172.8C155.7,171.1 156.6,165.6 157.1,164.2M157.1,158.8L158.0,175.0M176.8,162.0C175.8,161.5 172.8,158.4 170.5,158.8C168.3,159.2 163.9,162.6 163.3,164.7C162.8,166.9 165.3,170.9 167.4,171.8C169.5,172.6 174.4,170.0 175.9,169.6M176.8,158.8C176.8,162.2 177.6,174.6 176.8,179.1C176.0,183.5 174.0,184.6 172.1,185.3C170.2,185.9 166.4,183.5 165.2,183.1M183.0,166.9C185.2,166.7 194.4,166.9 195.9,165.6C197.3,164.2 193.8,159.5 191.8,158.8C189.8,158.1 185.4,159.7 184.0,161.5C182.5,163.3 182.3,167.3 183.0,169.6C183.8,171.8 186.4,174.5 188.7,175.0C190.9,175.5 195.2,173.2 196.5,172.8" fill="none" stroke="#000" stroke-width="2.4" stroke-linecap="round" stroke-linejoin="round"/>
<path d="M238.9,153.2 L238.9,170.0M238.9,145.9 L239.2,146.5M242.1,153.2L242.1,170.0M242.1,159.4C243.0,158.3 245.8,153.5 247.7,153.2C249.6,152.9 252.3,154.6 253.3,157.4C254.3,160.2 253.8,167.9 253.8,170.0M268.2,156.0C267.3,155.5 264.6,152.5 262.6,153.2C260.6,153.9 256.7,157.5 256.2,160.2C255.7,162.9 257.8,168.2 259.8,169.4C261.8,170.7 266.8,168.0 268.2,167.8M276.3,153.2C275.9,153.3 274.7,153.4 273.9,153.8C273.2,154.2 272.4,154.9 271.9,155.7C271.3,156.4 270.8,157.4 270.5,158.4C270.2,159.4 270.0,160.5 270.0,161.6C270.0,162.7 270.2,163.8 270.5,164.8C270.8,165.8 271.3,166.8 271.9,167.5C272.4,168.3 273.2,169.0 273.9,169.4C274.7,169.8 275.5,170.0 276.3,170.0C277.1,170.0 278.0,169.8 278.7,169.4C279.5,169.0 280.2,168.3 280.8,167.5C281.3,166.8 281.8,165.8 282.1,164.8C282.5,163.8 282.6,162.7 282.6,161.6C282.6,160.5 282.5,159.4 282.1,158.4C281.8,157.4 281.3,156.4 280.8,155.7C280.2,154.9 279.5,154.2 278.7,153.8C278.0,153.4 276.7,153.3 276.3,153.2M284.4,153.2L284.4,170.0M284.4,159.4C285.1,158.3 287.2,153.5 288.6,153.2C290.0,152.9 292.0,154.6 292.8,157.4C293.6,160.2 293.3,167.9 293.4,170.0M293.4,158.8C294.1,157.9 296.2,153.4 297.6,153.2C299.0,153.0 301.0,154.6 301.8,157.4C302.6,160.2 302.2,167.9 302.3,170.0M305.0,161.6C306.9,161.4 315.1,161.6 316.4,160.2C317.7,158.8 314.6,153.9 312.8,153.2C311.0,152.5 307.1,154.1 305.8,156.0C304.5,157.9 304.3,162.1 305.0,164.4C305.7,166.7 308.0,169.4 310.0,170.0C312.0,170.6 315.8,168.1 317.0,167.8" fill="none" stroke="#000" stroke-width="2.4" stroke-linecap="round" stroke-linejoin="round"/>
<path d="M364.9,152.4C363.6,152.1 359.5,150.4 357.0,150.8C354.4,151.2 349.9,153.5 349.8,155.0C349.7,156.5 353.6,158.3 356.2,159.8C358.7,161.2 364.1,161.9 364.9,163.6C365.7,165.3 363.6,169.2 361.0,170.0C358.3,170.8 351.0,168.7 349.0,168.4M371.3,160.4C374.1,160.1 385.8,160.4 387.7,158.8C389.5,157.2 385.0,151.6 382.5,150.8C380.0,150.0 374.4,151.9 372.5,154.0C370.7,156.1 370.3,160.9 371.3,163.6C372.3,166.3 375.6,169.4 378.5,170.0C381.4,170.6 386.8,167.9 388.5,167.4M393.3,150.8 L410.0,170.0M410.0,150.8 L393.3,170.0" fill="none" stroke="#000" stroke-width="2.4" stroke-linecap="round" stroke-linejoin="round"/>
<path d="M479.3,140.9L479.3,156.0M479.3,146.4C480.0,145.5 482.2,141.2 483.7,140.9C485.1,140.6 487.2,142.2 488.0,144.7C488.8,147.2 488.5,154.1 488.6,156.0M488.6,145.9C489.3,145.1 491.5,141.1 492.9,140.9C494.4,140.7 496.5,142.2 497.3,144.7C498.1,147.2 497.8,154.1 497.9,156.0M514.4,143.9C513.4,143.4 510.6,140.4 508.6,140.9C506.5,141.5 502.5,144.8 501.9,147.2C501.3,149.6 503.2,154.4 504.8,155.5C506.4,156.6 509.9,155.6 511.5,154.0C513.1,152.4 513.9,147.3 514.4,145.9M514.4,140.9L515.2,156.0M519.0,140.9L519.0,156.0M519.0,145.9C519.7,145.1 521.9,141.5 523.3,140.9C524.8,140.3 527.0,142.0 527.7,142.2M530.9,140.9L530.9,156.0M530.9,145.9C531.6,145.1 533.8,141.5 535.2,140.9C536.7,140.3 538.8,142.0 539.6,142.2M544.2,140.9 L544.2,156.0M544.2,131.9 L544.5,132.5M549.4,148.5C551.3,148.3 559.9,148.5 561.3,147.2C562.6,145.9 559.3,141.5 557.5,140.9C555.6,140.3 551.6,141.8 550.2,143.4C548.9,145.1 548.6,148.9 549.4,151.0C550.1,153.1 552.5,155.5 554.6,156.0C556.7,156.5 560.6,154.3 561.8,154.0M578.1,143.9C577.1,143.4 574.3,140.4 572.3,140.9C570.2,141.5 566.2,144.8 565.6,147.2C565.0,149.6 566.9,154.4 568.5,155.5C570.1,156.6 573.6,155.6 575.2,154.0C576.7,152.4 577.6,147.3 578.1,145.9M578.3,127.0L578.9,156.0" fill="none" stroke="#000" stroke-width="2.4" stroke-linecap="round" stroke-linejoin="round"/>
<path d="M89.2,219.4C91.0,215.8 98.1,209.4 112.7,204.4C127.3,199.4 155.3,193.2 176.7,189.5C198.0,185.8 215.2,184.5 240.8,182.0C266.4,179.5 305.6,176.4 330.5,174.6C355.4,172.8 362.4,171.7 390.2,171.3C417.9,170.9 466.8,171.3 497.0,172.4C527.2,173.5 555.3,174.8 571.7,177.8C588.1,180.8 593.4,186.7 595.2,190.6C597.0,194.5 598.8,197.6 582.4,201.2C566.0,204.8 529.0,209.8 497.0,211.9C465.0,214.0 418.7,213.7 390.2,214.0C361.7,214.3 351.1,213.6 326.2,214.0C301.3,214.4 265.7,214.8 240.8,216.2C215.9,217.6 194.5,220.5 176.7,222.6C158.9,224.7 146.4,228.5 134.0,229.0C121.5,229.5 109.5,227.4 102.0,225.8C94.5,224.2 87.4,223.0 89.2,219.4Z" fill="none" stroke="#e23a2e" stroke-width="2.6" stroke-linecap="round" stroke-linejoin="round"/>
<path d="M91.3,306.2C91.6,302.5 100.6,291.8 114.8,287.0C129.0,282.2 155.7,279.5 176.7,277.4C197.7,275.3 212.3,275.1 240.8,274.2C269.3,273.3 311.9,273.2 347.5,272.1C383.1,271.0 422.3,268.5 454.3,267.8C486.3,267.1 520.5,266.9 539.7,267.8C558.9,268.7 563.7,271.3 569.6,273.1C575.5,274.9 575.6,276.2 574.9,278.5C574.2,280.8 578.3,284.3 565.3,287.0C552.3,289.7 526.2,292.2 497.0,294.5C467.8,296.8 418.7,299.1 390.2,300.9C361.7,302.7 351.1,304.7 326.2,305.2C301.3,305.7 265.7,303.4 240.8,304.1C215.9,304.8 198.0,308.5 176.7,309.4C155.3,310.3 126.9,309.9 112.7,309.4C98.5,308.9 91.0,309.9 91.3,306.2Z" fill="none" stroke="#e23a2e" stroke-width="2.6" stroke-linecap="round" stroke-linejoin="round"/>
<path d="M91.3,441.2C94.2,437.3 102.0,428.6 112.7,424.2C123.4,419.8 134.1,417.6 155.4,414.6C176.8,411.6 208.8,407.1 240.8,406.0C272.8,404.9 311.9,408.3 347.5,408.1C383.1,407.9 422.3,405.1 454.3,404.9C486.3,404.7 517.7,405.5 539.7,407.1C561.8,408.7 576.3,412.1 586.6,414.6C596.9,417.1 599.8,419.7 601.6,422.0C603.4,424.3 607.6,426.1 597.3,428.4C587.0,430.7 563.5,433.8 539.7,435.9C515.9,438.0 486.3,439.8 454.3,441.2C422.3,442.6 383.1,443.0 347.5,444.4C311.9,445.8 272.8,448.4 240.8,449.8C208.8,451.2 175.0,452.5 155.4,453.0C135.8,453.5 133.4,453.9 123.4,453.0C113.4,452.1 100.9,449.6 95.6,447.6C90.2,445.6 88.4,445.1 91.3,441.2Z" fill="none" stroke="#e23a2e" stroke-width="2.6" stroke-linecap="round" stroke-linejoin="round"/>
<path d="M747.7,71.8C747.4,71.9 746.3,72.1 745.7,72.5C745.0,73.0 744.4,73.7 743.9,74.6C743.4,75.5 743.0,76.6 742.7,77.7C742.4,78.9 742.3,80.2 742.3,81.4C742.3,82.6 742.4,83.9 742.7,85.1C743.0,86.2 743.4,87.3 743.9,88.2C744.4,89.1 745.0,89.8 745.7,90.3C746.3,90.7 747.1,91.0 747.7,91.0C748.4,91.0 749.2,90.7 749.8,90.3C750.5,89.8 751.1,89.1 751.6,88.2C752.1,87.3 752.5,86.2 752.8,85.1C753.0,83.9 753.2,82.6 753.2,81.4C753.2,80.2 753.0,78.9 752.8,77.7C752.5,76.6 752.1,75.5 751.6,74.6C751.1,73.7 750.5,73.0 749.8,72.5C749.2,72.1 748.1,71.9 747.7,71.8M754.5,71.8C754.6,74.4 754.2,84.0 755.0,87.2C755.8,90.4 757.8,91.2 759.3,91.0C760.9,90.8 763.4,87.0 764.2,86.2M764.6,71.8L764.6,91.0M769.6,61.6C769.5,66.0 768.7,83.5 769.3,88.4C769.9,93.3 772.5,90.6 773.2,91.0M765.9,71.8L774.4,71.2" fill="none" stroke="#000" stroke-width="2.4" stroke-linecap="round" stroke-linejoin="round"/>
<path d="M796.1,70.6C795.7,70.7 794.1,70.9 793.2,71.4C792.3,71.9 791.4,72.7 790.7,73.6C790.1,74.5 789.5,75.7 789.1,76.9C788.7,78.1 788.5,79.5 788.5,80.8C788.5,82.1 788.7,83.5 789.1,84.7C789.5,85.9 790.1,87.1 790.7,88.0C791.4,88.9 792.3,89.7 793.2,90.2C794.1,90.7 795.2,91.0 796.1,91.0C797.1,91.0 798.2,90.7 799.1,90.2C800.0,89.7 800.9,88.9 801.6,88.0C802.2,87.1 802.8,85.9 803.2,84.7C803.6,83.5 803.8,82.1 803.8,80.8C803.8,79.5 803.6,78.1 803.2,76.9C802.8,75.7 802.2,74.5 801.6,73.6C800.9,72.7 800.0,71.9 799.1,71.4C798.2,70.9 796.6,70.7 796.1,70.6M820.3,57.0C819.3,57.3 815.7,57.0 814.2,58.7C812.7,60.4 812.0,61.8 811.5,67.2C810.9,72.6 810.9,87.0 810.8,91.0M807.4,72.3L818.3,71.3" fill="none" stroke="#000" stroke-width="2.4" stroke-linecap="round" stroke-linejoin="round"/>
<path d="M832.5,65.0L832.0,91.0M832.5,65.0C833.7,65.1 837.9,64.7 839.8,65.5C841.7,66.4 843.7,68.4 843.7,70.2C843.7,72.0 841.7,75.4 839.8,76.4C837.9,77.5 833.7,76.7 832.5,76.7M838.5,76.4C839.5,77.3 844.0,79.7 844.5,81.9C844.9,84.1 843.2,88.2 841.1,89.7C839.0,91.2 833.5,90.8 832.0,91.0M859.7,78.5C858.8,78.0 856.4,74.8 854.5,75.4C852.6,76.0 849.1,79.4 848.5,81.9C848.0,84.4 849.7,89.3 851.1,90.5C852.5,91.7 855.7,90.6 857.1,88.9C858.5,87.3 859.3,82.0 859.7,80.6M859.7,75.4L860.5,91.0M875.7,78.5C874.8,78.0 872.4,75.0 870.5,75.4C868.6,75.8 865.0,79.0 864.5,81.1C864.1,83.2 866.2,87.1 867.9,87.9C869.6,88.7 873.8,86.1 874.9,85.8M875.7,75.4C875.7,78.7 876.4,90.7 875.7,94.9C875.1,99.1 873.4,100.2 871.8,100.9C870.2,101.5 867.0,99.1 866.1,98.8" fill="none" stroke="#000" stroke-width="2.4" stroke-linecap="round" stroke-linejoin="round"/>
<path d="M934.1,82.3C933.2,81.9 930.7,79.4 928.8,79.8C926.8,80.3 923.1,83.0 922.5,84.9C922.0,86.9 923.8,90.7 925.2,91.6C926.7,92.5 930.0,91.7 931.5,90.4C932.9,89.1 933.7,85.0 934.1,83.9M934.4,65.0L935.0,92.0M952.2,82.3C951.3,81.9 948.7,79.4 946.8,79.8C944.8,80.3 941.1,83.0 940.6,84.9C940.0,86.9 941.8,90.7 943.3,91.6C944.7,92.5 948.0,91.7 949.5,90.4C951.0,89.1 951.7,85.0 952.2,83.9M952.2,79.8L953.0,92.0M962.1,68.0C962.0,71.7 961.1,86.4 961.8,90.4C962.5,94.4 965.4,91.7 966.1,92.0M958.0,79.8L967.5,79.1M984.2,82.3C983.3,81.9 980.7,79.4 978.8,79.8C976.8,80.3 973.1,83.0 972.5,84.9C972.0,86.9 973.8,90.7 975.2,91.6C976.7,92.5 980.0,91.7 981.5,90.4C982.9,89.1 983.7,85.0 984.2,83.9M984.2,79.8L985.0,92.0M1000.8,80.9C999.9,80.7 997.1,79.6 995.4,79.8C993.7,80.1 990.7,81.5 990.6,82.5C990.5,83.4 993.2,84.6 994.9,85.5C996.6,86.4 1000.3,86.9 1000.8,88.0C1001.4,89.0 999.9,91.5 998.1,92.0C996.3,92.5 991.4,91.2 990.0,91.0M1006.4,85.9C1008.3,85.8 1016.2,85.9 1017.5,84.9C1018.8,83.9 1015.7,80.4 1014.0,79.8C1012.3,79.3 1008.5,80.5 1007.2,81.9C1006.0,83.2 1005.7,86.3 1006.4,88.0C1007.1,89.6 1009.3,91.6 1011.3,92.0C1013.2,92.4 1016.9,90.6 1018.0,90.4M1026.6,68.0C1026.6,71.7 1025.7,86.4 1026.3,90.4C1027.0,94.4 1029.9,91.7 1030.6,92.0M1022.5,79.8L1032.0,79.1" fill="none" stroke="#000" stroke-width="2.4" stroke-linecap="round" stroke-linejoin="round"/>
<path d="M722.0,108.0C735.5,108.5 768.2,109.7 803.0,111.0C837.8,112.3 888.3,115.8 931.0,116.0C973.7,116.2 1025.0,113.5 1059.0,112.0C1093.0,110.5 1122.3,107.8 1135.0,107.0" fill="none" stroke="#000" stroke-width="2.6" stroke-linecap="round" stroke-linejoin="round"/>
<path d="M1134.8,106.8C1133.3,107.8 1128.9,110.1 1125.7,112.8C1122.5,115.5 1118.3,119.9 1115.7,122.8C1113.1,125.7 1111.3,127.6 1110.2,130.0C1109.1,132.4 1109.2,131.5 1109.3,137.0C1109.4,142.5 1110.0,156.2 1110.7,162.9C1111.4,169.6 1113.0,175.0 1113.4,177.4" fill="none" stroke="#000" stroke-width="2.6" stroke-linecap="round" stroke-linejoin="round"/>
<path d="M724.0,114.0C724.3,124.8 725.3,161.8 726.0,179.0C726.7,196.2 728.7,199.5 728.0,217.0C727.3,234.5 721.5,264.3 722.0,284.0C722.5,303.7 729.5,326.5 731.0,335.0" fill="none" stroke="#000" stroke-width="2.6" stroke-linecap="round" stroke-linejoin="round"/>
<path d="M812.0,111.0C812.0,128.7 813.3,190.3 812.0,217.0C810.7,243.7 805.3,252.2 804.0,271.0C802.7,289.8 804.0,320.2 804.0,330.0" fill="none" stroke="#000" stroke-width="2.6" stroke-linecap="round" stroke-linejoin="round"/>
<path d="M913.0,118.0C913.0,133.2 913.8,184.8 913.0,209.0C912.2,233.2 908.5,242.8 908.0,263.0C907.5,283.2 909.7,318.8 910.0,330.0" fill="none" stroke="#000" stroke-width="2.6" stroke-linecap="round" stroke-linejoin="round"/>
<path d="M1016.0,118.0C1016.3,128.2 1018.0,154.8 1018.0,179.0C1018.0,203.2 1016.0,237.8 1016.0,263.0C1016.0,288.2 1017.7,318.8 1018.0,330.0" fill="none" stroke="#000" stroke-width="2.6" stroke-linecap="round" stroke-linejoin="round"/>
<path d="M1116.0,180.0C1115.5,193.8 1113.3,239.3 1113.0,263.0C1112.7,286.7 1113.8,312.2 1114.0,322.0" fill="none" stroke="#000" stroke-width="2.6" stroke-linecap="round" stroke-linejoin="round"/>
<path d="M727.0,166.0C748.2,165.5 807.2,163.5 854.0,163.0C900.8,162.5 963.2,160.7 1008.0,163.0C1052.8,165.3 1103.8,174.7 1123.0,177.0" fill="none" stroke="#000" stroke-width="2.6" stroke-linecap="round" stroke-linejoin="round"/>
<path d="M728.0,221.0C757.5,219.0 841.0,210.5 905.0,209.0C969.0,207.5 1077.5,211.5 1112.0,212.0" fill="none" stroke="#000" stroke-width="2.6" stroke-linecap="round" stroke-linejoin="round"/>
<path d="M727.0,279.0C739.7,277.8 764.7,274.5 803.0,272.0C841.3,269.5 905.5,266.2 957.0,264.0C1008.5,261.8 1086.2,259.8 1112.0,259.0" fill="none" stroke="#000" stroke-width="2.6" stroke-linecap="round" stroke-linejoin="round"/>
<path d="M730.0,335.0C750.7,334.0 816.2,331.0 854.0,329.0C891.8,327.0 912.8,324.2 957.0,323.0C1001.2,321.8 1092.0,322.2 1119.0,322.0" fill="none" stroke="#000" stroke-width="2.6" stroke-linecap="round" stroke-linejoin="round"/>
<path d="M748.1,137.0C747.2,136.5 744.7,133.7 742.7,134.2C740.8,134.7 737.1,137.7 736.5,139.9C736.0,142.2 737.8,146.5 739.2,147.5C740.7,148.6 744.0,147.6 745.4,146.2C746.9,144.7 747.7,140.0 748.1,138.8M748.1,134.2L748.9,148.0M765.1,137.0C764.2,136.5 761.6,133.8 759.7,134.2C757.7,134.6 753.9,137.4 753.5,139.3C753.0,141.1 755.2,144.6 757.0,145.2C758.8,145.9 763.0,143.7 764.3,143.4M765.1,134.2C765.1,137.1 765.7,147.7 765.1,151.4C764.4,155.2 762.7,156.2 761.0,156.7C759.4,157.3 756.1,155.2 755.1,154.9M770.4,141.1C772.2,140.9 780.2,141.1 781.5,139.9C782.7,138.8 779.7,134.8 778.0,134.2C776.2,133.6 772.5,135.0 771.2,136.5C770.0,138.0 769.7,141.5 770.4,143.4C771.1,145.3 773.3,147.5 775.3,148.0C777.2,148.5 780.9,146.5 782.0,146.2" fill="none" stroke="#000" stroke-width="2.4" stroke-linecap="round" stroke-linejoin="round"/>
<path d="M824.3,136.0 L824.3,151.6M824.3,129.2 L824.6,129.8M828.9,136.0L828.9,151.6M828.9,141.7C829.8,140.8 832.4,136.3 834.1,136.0C835.8,135.7 838.3,137.3 839.3,139.9C840.2,142.5 839.7,149.7 839.8,151.6M854.8,138.6C853.9,138.2 851.5,135.3 849.6,136.0C847.7,136.7 844.1,140.0 843.6,142.5C843.2,145.0 845.1,149.9 847.0,151.1C848.9,152.2 853.5,149.8 854.8,149.5M864.0,136.0C863.6,136.1 862.4,136.2 861.7,136.6C861.0,137.0 860.3,137.6 859.8,138.3C859.3,139.0 858.8,139.9 858.6,140.8C858.3,141.7 858.1,142.8 858.1,143.8C858.1,144.8 858.3,145.9 858.6,146.8C858.8,147.7 859.3,148.6 859.8,149.3C860.3,150.0 861.0,150.6 861.7,151.0C862.4,151.4 863.2,151.6 864.0,151.6C864.7,151.6 865.5,151.4 866.2,151.0C866.9,150.6 867.6,150.0 868.1,149.3C868.6,148.6 869.1,147.7 869.4,146.8C869.6,145.9 869.8,144.8 869.8,143.8C869.8,142.8 869.6,141.7 869.4,140.8C869.1,139.9 868.6,139.0 868.1,138.3C867.6,137.6 866.9,137.0 866.2,136.6C865.5,136.2 864.3,136.1 864.0,136.0M873.1,136.0L873.1,151.6M873.1,141.7C873.8,140.8 875.7,136.3 877.0,136.0C878.3,135.7 880.2,137.3 880.9,139.9C881.6,142.5 881.3,149.7 881.4,151.6M881.4,141.2C882.1,140.3 884.0,136.2 885.3,136.0C886.6,135.8 888.5,137.3 889.2,139.9C890.0,142.5 889.7,149.7 889.7,151.6M893.8,143.8C895.6,143.6 903.3,143.8 904.5,142.5C905.7,141.2 902.7,136.7 901.1,136.0C899.5,135.3 895.8,136.9 894.6,138.6C893.4,140.3 893.2,144.2 893.8,146.4C894.5,148.6 896.6,151.1 898.5,151.6C900.4,152.1 903.9,149.9 905.0,149.5" fill="none" stroke="#000" stroke-width="2.4" stroke-linecap="round" stroke-linejoin="round"/>
<path d="M949.0,138.9C948.0,138.7 944.9,137.0 943.0,137.4C941.1,137.8 937.7,139.9 937.6,141.3C937.5,142.7 940.5,144.5 942.4,145.8C944.3,147.2 948.4,147.8 949.0,149.4C949.6,151.0 948.0,154.7 946.0,155.4C944.0,156.2 938.5,154.2 937.0,153.9M955.9,146.4C957.9,146.2 966.8,146.4 968.1,144.9C969.5,143.4 966.1,138.2 964.2,137.4C962.4,136.7 958.1,138.4 956.8,140.4C955.4,142.4 955.1,146.9 955.9,149.4C956.6,151.9 959.1,154.8 961.2,155.4C963.4,156.0 967.5,153.4 968.8,153.0M974.4,137.4 L987.0,155.4M987.0,137.4 L974.4,155.4" fill="none" stroke="#000" stroke-width="2.4" stroke-linecap="round" stroke-linejoin="round"/>
<path d="M1020.5,141.0L1020.5,155.0M1020.5,146.1C1021.1,145.3 1023.0,141.3 1024.2,141.0C1025.5,140.7 1027.3,142.2 1028.0,144.5C1028.7,146.8 1028.4,153.2 1028.5,155.0M1028.5,145.7C1029.1,144.9 1031.0,141.2 1032.2,141.0C1033.5,140.8 1035.3,142.2 1036.0,144.5C1036.7,146.8 1036.4,153.2 1036.5,155.0M1050.2,143.8C1049.3,143.3 1046.9,140.5 1045.2,141.0C1043.4,141.5 1039.9,144.6 1039.4,146.8C1038.9,149.1 1040.5,153.5 1041.9,154.5C1043.3,155.6 1046.3,154.6 1047.7,153.1C1049.0,151.7 1049.7,146.9 1050.2,145.7M1050.2,141.0L1050.9,155.0M1053.6,141.0L1053.6,155.0M1053.6,145.7C1054.2,144.9 1056.1,141.6 1057.3,141.0C1058.6,140.4 1060.4,142.0 1061.1,142.2M1063.2,141.0L1063.2,155.0M1063.2,145.7C1063.8,144.9 1065.7,141.6 1067.0,141.0C1068.2,140.4 1070.1,142.0 1070.7,142.2M1074.1,141.0 L1074.1,155.0M1074.1,133.8 L1074.4,134.4M1078.0,148.0C1079.7,147.8 1087.1,148.0 1088.3,146.8C1089.4,145.7 1086.6,141.6 1085.0,141.0C1083.4,140.4 1079.9,141.8 1078.8,143.3C1077.6,144.9 1077.4,148.4 1078.0,150.3C1078.6,152.3 1080.7,154.5 1082.5,155.0C1084.3,155.5 1087.7,153.4 1088.8,153.1M1102.2,143.8C1101.3,143.3 1098.9,140.5 1097.2,141.0C1095.4,141.5 1091.9,144.6 1091.4,146.8C1090.9,149.1 1092.5,153.5 1093.9,154.5C1095.3,155.6 1098.3,154.6 1099.7,153.1C1101.0,151.7 1101.7,146.9 1102.2,145.7M1102.4,130.0L1102.9,155.0" fill="none" stroke="#000" stroke-width="2.4" stroke-linecap="round" stroke-linejoin="round"/>
<path d="M745.6,183.2C746.9,182.8 750.7,180.8 753.0,181.0C755.3,181.2 758.6,182.9 759.4,184.3C760.2,185.7 759.3,188.3 757.8,189.4C756.4,190.5 750.5,190.1 750.8,190.9C751.0,191.7 758.0,192.7 759.4,194.2C760.9,195.7 760.5,198.2 759.4,199.7C758.4,201.2 755.4,202.7 753.0,203.0C750.6,203.3 746.3,201.5 745.0,201.2M780.4,181.0C778.3,181.0 769.9,179.3 767.6,181.0C765.2,182.7 765.2,189.5 766.3,190.9C767.3,192.3 771.6,188.8 774.0,189.4C776.3,189.9 779.8,192.2 780.4,194.2C781.0,196.2 779.4,199.8 777.8,201.2C776.2,202.7 773.0,203.1 770.8,203.0C768.5,202.9 765.4,201.2 764.3,200.8" fill="none" stroke="#000" stroke-width="2.4" stroke-linecap="round" stroke-linejoin="round"/>
<path d="M829.0,184.0 L823.0,197.0 L836.2,197.0M833.0,190.0 L833.0,204.0M845.1,189.2C844.8,189.3 843.6,189.4 842.8,189.8C842.1,190.1 841.4,190.7 840.9,191.4C840.4,192.0 839.9,192.9 839.6,193.8C839.3,194.6 839.2,195.7 839.2,196.6C839.2,197.5 839.3,198.6 839.6,199.4C839.9,200.3 840.4,201.2 840.9,201.8C841.4,202.5 842.1,203.1 842.8,203.4C843.6,203.8 844.4,204.0 845.1,204.0C845.9,204.0 846.7,203.8 847.4,203.4C848.1,203.1 848.8,202.5 849.4,201.8C849.9,201.2 850.4,200.3 850.7,199.4C851.0,198.6 851.1,197.5 851.1,196.6C851.1,195.7 851.0,194.6 850.7,193.8C850.4,192.9 849.9,192.0 849.4,191.4C848.8,190.7 848.1,190.1 847.4,189.8C846.7,189.4 845.5,189.3 845.1,189.2M860.1,189.2C859.7,189.3 858.5,189.4 857.8,189.8C857.1,190.1 856.4,190.7 855.9,191.4C855.3,192.0 854.9,192.9 854.6,193.8C854.3,194.6 854.1,195.7 854.1,196.6C854.1,197.5 854.3,198.6 854.6,199.4C854.9,200.3 855.3,201.2 855.9,201.8C856.4,202.5 857.1,203.1 857.8,203.4C858.5,203.8 859.3,204.0 860.1,204.0C860.9,204.0 861.7,203.8 862.4,203.4C863.1,203.1 863.8,202.5 864.3,201.8C864.9,201.2 865.3,200.3 865.6,199.4C865.9,198.6 866.1,197.5 866.1,196.6C866.1,195.7 865.9,194.6 865.6,193.8C865.3,192.9 864.9,192.0 864.3,191.4C863.8,190.7 863.1,190.1 862.4,189.8C861.7,189.4 860.5,189.3 860.1,189.2M875.1,189.2C874.7,189.3 873.5,189.4 872.8,189.8C872.1,190.1 871.4,190.7 870.8,191.4C870.3,192.0 869.8,192.9 869.5,193.8C869.2,194.6 869.1,195.7 869.1,196.6C869.1,197.5 869.2,198.6 869.5,199.4C869.8,200.3 870.3,201.2 870.8,201.8C871.4,202.5 872.1,203.1 872.8,203.4C873.5,203.8 874.3,204.0 875.1,204.0C875.8,204.0 876.6,203.8 877.3,203.4C878.1,203.1 878.7,202.5 879.3,201.8C879.8,201.2 880.3,200.3 880.6,199.4C880.9,198.6 881.0,197.5 881.0,196.6C881.0,195.7 880.9,194.6 880.6,193.8C880.3,192.9 879.8,192.0 879.3,191.4C878.7,190.7 878.1,190.1 877.3,189.8C876.6,189.4 875.4,189.3 875.1,189.2M890.0,189.2C889.6,189.3 888.4,189.4 887.7,189.8C887.0,190.1 886.3,190.7 885.8,191.4C885.3,192.0 884.8,192.9 884.5,193.8C884.2,194.6 884.0,195.7 884.0,196.6C884.0,197.5 884.2,198.6 884.5,199.4C884.8,200.3 885.3,201.2 885.8,201.8C886.3,202.5 887.0,203.1 887.7,203.4C888.4,203.8 889.3,204.0 890.0,204.0C890.8,204.0 891.6,203.8 892.3,203.4C893.0,203.1 893.7,202.5 894.2,201.8C894.8,201.2 895.3,200.3 895.5,199.4C895.8,198.6 896.0,197.5 896.0,196.6C896.0,195.7 895.8,194.6 895.5,193.8C895.3,192.9 894.8,192.0 894.2,191.4C893.7,190.7 893.0,190.1 892.3,189.8C891.6,189.4 890.4,189.3 890.0,189.2" fill="none" stroke="#000" stroke-width="2.4" stroke-linecap="round" stroke-linejoin="round"/>
<path d="M951.3,180.4 L950.0,199.0M951.3,180.4 L980.0,180.0M951.3,189.5 L975.3,189.1" fill="none" stroke="#000" stroke-width="2.4" stroke-linecap="round" stroke-linejoin="round"/>
<path d="M1045.0,201.6 L1046.0,182.0 L1070.0,201.6 L1071.0,182.0" fill="none" stroke="#000" stroke-width="2.4" stroke-linecap="round" stroke-linejoin="round"/>
<path d="M737.5,245.5C738.0,244.8 738.9,242.0 740.1,241.1C741.3,240.2 743.3,239.6 744.8,240.0C746.4,240.4 749.1,241.7 749.5,243.3C750.0,245.0 749.5,246.8 747.4,249.9C745.3,253.0 736.3,260.1 737.0,262.0C737.7,263.9 749.0,261.6 751.4,261.6M755.2,245.5C755.6,244.8 756.6,242.0 757.8,241.1C759.0,240.2 760.9,239.6 762.5,240.0C764.0,240.4 766.7,241.7 767.2,243.3C767.6,245.0 767.2,246.8 765.1,249.9C763.0,253.0 754.0,260.1 754.6,262.0C755.3,263.9 766.6,261.6 769.0,261.6" fill="none" stroke="#000" stroke-width="2.4" stroke-linecap="round" stroke-linejoin="round"/>
<path d="M817.0,237.5 L827.8,237.5 L819.1,259.0M836.2,243.1C835.8,243.2 834.8,243.3 834.1,243.7C833.5,244.1 832.9,244.7 832.4,245.4C831.9,246.1 831.5,247.1 831.2,248.0C831.0,248.9 830.8,250.0 830.8,251.0C830.8,252.1 831.0,253.2 831.2,254.1C831.5,255.0 831.9,256.0 832.4,256.7C832.9,257.4 833.5,258.0 834.1,258.4C834.8,258.8 835.5,259.0 836.2,259.0C836.9,259.0 837.6,258.8 838.2,258.4C838.9,258.0 839.5,257.4 840.0,256.7C840.5,256.0 840.9,255.0 841.2,254.1C841.4,253.2 841.6,252.1 841.6,251.0C841.6,250.0 841.4,248.9 841.2,248.0C840.9,247.1 840.5,246.1 840.0,245.4C839.5,244.7 838.9,244.1 838.2,243.7C837.6,243.3 836.5,243.2 836.2,243.1M850.0,243.1C849.7,243.2 848.6,243.3 847.9,243.7C847.3,244.1 846.7,244.7 846.2,245.4C845.7,246.1 845.3,247.1 845.0,248.0C844.8,248.9 844.6,250.0 844.6,251.0C844.6,252.1 844.8,253.2 845.0,254.1C845.3,255.0 845.7,256.0 846.2,256.7C846.7,257.4 847.3,258.0 847.9,258.4C848.6,258.8 849.3,259.0 850.0,259.0C850.7,259.0 851.4,258.8 852.1,258.4C852.7,258.0 853.3,257.4 853.8,256.7C854.3,256.0 854.7,255.0 855.0,254.1C855.2,253.2 855.4,252.1 855.4,251.0C855.4,250.0 855.2,248.9 855.0,248.0C854.7,247.1 854.3,246.1 853.8,245.4C853.3,244.7 852.7,244.1 852.1,243.7C851.4,243.3 850.3,243.2 850.0,243.1M863.8,243.1C863.5,243.2 862.4,243.3 861.8,243.7C861.1,244.1 860.5,244.7 860.0,245.4C859.5,246.1 859.1,247.1 858.8,248.0C858.6,248.9 858.4,250.0 858.4,251.0C858.4,252.1 858.6,253.2 858.8,254.1C859.1,255.0 859.5,256.0 860.0,256.7C860.5,257.4 861.1,258.0 861.8,258.4C862.4,258.8 863.1,259.0 863.8,259.0C864.5,259.0 865.2,258.8 865.9,258.4C866.5,258.0 867.1,257.4 867.6,256.7C868.1,256.0 868.5,255.0 868.8,254.1C869.0,253.2 869.2,252.1 869.2,251.0C869.2,250.0 869.0,248.9 868.8,248.0C868.5,247.1 868.1,246.1 867.6,245.4C867.1,244.7 866.5,244.1 865.9,243.7C865.2,243.3 864.2,243.2 863.8,243.1M877.6,243.1C877.3,243.2 876.2,243.3 875.6,243.7C874.9,244.1 874.3,244.7 873.8,245.4C873.3,246.1 872.9,247.1 872.7,248.0C872.4,248.9 872.2,250.0 872.2,251.0C872.2,252.1 872.4,253.2 872.7,254.1C872.9,255.0 873.3,256.0 873.8,256.7C874.3,257.4 874.9,258.0 875.6,258.4C876.2,258.8 876.9,259.0 877.6,259.0C878.3,259.0 879.0,258.8 879.7,258.4C880.3,258.0 880.9,257.4 881.4,256.7C881.9,256.0 882.3,255.0 882.6,254.1C882.9,253.2 883.0,252.1 883.0,251.0C883.0,250.0 882.9,248.9 882.6,248.0C882.3,247.1 881.9,246.1 881.4,245.4C880.9,244.7 880.3,244.1 879.7,243.7C879.0,243.3 878.0,243.2 877.6,243.1" fill="none" stroke="#000" stroke-width="2.4" stroke-linecap="round" stroke-linejoin="round"/>
<path d="M938.6,253.0 L944.9,237.5 L953.3,249.9 L961.7,237.5 L968.0,253.0" fill="none" stroke="#000" stroke-width="2.4" stroke-linecap="round" stroke-linejoin="round"/>
<path d="M1036.0,245.0 L1037.3,224.5 L1067.7,245.0 L1069.0,224.5" fill="none" stroke="#000" stroke-width="2.4" stroke-linecap="round" stroke-linejoin="round"/>
<path d="M736.6,301.3C737.6,300.9 741.0,298.8 743.0,299.0C745.1,299.2 748.0,301.0 748.7,302.4C749.4,303.9 748.5,306.6 747.3,307.7C746.0,308.9 740.8,308.5 741.1,309.4C741.3,310.2 747.4,311.3 748.7,312.8C749.9,314.3 749.6,317.0 748.7,318.6C747.7,320.1 745.1,321.7 743.0,322.0C740.9,322.3 737.2,320.5 736.0,320.2M754.1,304.8C754.6,304.0 755.6,301.1 756.9,300.1C758.2,299.2 760.3,298.6 762.0,299.0C763.7,299.4 766.6,300.7 767.0,302.4C767.5,304.2 767.0,306.1 764.8,309.4C762.5,312.6 752.8,320.0 753.5,322.0C754.2,324.0 766.4,321.6 769.0,321.5" fill="none" stroke="#000" stroke-width="2.4" stroke-linecap="round" stroke-linejoin="round"/>
<path d="M831.2,291.5C830.1,292.6 826.3,295.7 824.8,298.4C823.2,301.1 821.9,304.9 822.0,307.6C822.1,310.3 823.9,313.5 825.5,314.5C827.0,315.5 829.9,314.5 831.2,313.4C832.5,312.2 833.4,309.2 833.0,307.6C832.7,306.0 830.5,303.7 828.9,303.5C827.3,303.3 824.1,306.0 823.1,306.4M840.9,297.5C840.5,297.6 839.4,297.7 838.7,298.1C838.0,298.5 837.3,299.2 836.8,300.0C836.3,300.7 835.8,301.7 835.6,302.7C835.3,303.7 835.1,304.9 835.1,306.0C835.1,307.1 835.3,308.2 835.6,309.2C835.8,310.2 836.3,311.2 836.8,312.0C837.3,312.8 838.0,313.4 838.7,313.9C839.4,314.3 840.1,314.5 840.9,314.5C841.6,314.5 842.4,314.3 843.1,313.9C843.8,313.4 844.4,312.8 844.9,312.0C845.5,311.2 845.9,310.2 846.2,309.2C846.5,308.2 846.6,307.1 846.6,306.0C846.6,304.9 846.5,303.7 846.2,302.7C845.9,301.7 845.5,300.7 844.9,300.0C844.4,299.2 843.8,298.5 843.1,298.1C842.4,297.7 841.2,297.6 840.9,297.5M854.0,297.5C853.6,297.6 852.5,297.7 851.8,298.1C851.1,298.5 850.5,299.2 849.9,300.0C849.4,300.7 849.0,301.7 848.7,302.7C848.4,303.7 848.2,304.9 848.2,306.0C848.2,307.1 848.4,308.2 848.7,309.2C849.0,310.2 849.4,311.2 849.9,312.0C850.5,312.8 851.1,313.4 851.8,313.9C852.5,314.3 853.3,314.5 854.0,314.5C854.7,314.5 855.5,314.3 856.2,313.9C856.9,313.4 857.5,312.8 858.1,312.0C858.6,311.2 859.0,310.2 859.3,309.2C859.6,308.2 859.8,307.1 859.8,306.0C859.8,304.9 859.6,303.7 859.3,302.7C859.0,301.7 858.6,300.7 858.1,300.0C857.5,299.2 856.9,298.5 856.2,298.1C855.5,297.7 854.4,297.6 854.0,297.5M867.1,297.5C866.8,297.6 865.6,297.7 864.9,298.1C864.2,298.5 863.6,299.2 863.1,300.0C862.5,300.7 862.1,301.7 861.8,302.7C861.5,303.7 861.4,304.9 861.4,306.0C861.4,307.1 861.5,308.2 861.8,309.2C862.1,310.2 862.5,311.2 863.1,312.0C863.6,312.8 864.2,313.4 864.9,313.9C865.6,314.3 866.4,314.5 867.1,314.5C867.9,314.5 868.6,314.3 869.3,313.9C870.0,313.4 870.7,312.8 871.2,312.0C871.7,311.2 872.2,310.2 872.4,309.2C872.7,308.2 872.9,307.1 872.9,306.0C872.9,304.9 872.7,303.7 872.4,302.7C872.2,301.7 871.7,300.7 871.2,300.0C870.7,299.2 870.0,298.5 869.3,298.1C868.6,297.7 867.5,297.6 867.1,297.5M880.2,297.5C879.9,297.6 878.7,297.7 878.0,298.1C877.4,298.5 876.7,299.2 876.2,300.0C875.7,300.7 875.2,301.7 874.9,302.7C874.7,303.7 874.5,304.9 874.5,306.0C874.5,307.1 874.7,308.2 874.9,309.2C875.2,310.2 875.7,311.2 876.2,312.0C876.7,312.8 877.4,313.4 878.0,313.9C878.7,314.3 879.5,314.5 880.2,314.5C881.0,314.5 881.8,314.3 882.5,313.9C883.1,313.4 883.8,312.8 884.3,312.0C884.8,311.2 885.3,310.2 885.6,309.2C885.8,308.2 886.0,307.1 886.0,306.0C886.0,304.9 885.8,303.7 885.6,302.7C885.3,301.7 884.8,300.7 884.3,300.0C883.8,299.2 883.1,298.5 882.5,298.1C881.8,297.7 880.6,297.6 880.2,297.5" fill="none" stroke="#000" stroke-width="2.4" stroke-linecap="round" stroke-linejoin="round"/>
<path d="M937.2,286.5 L936.0,312.0M937.2,286.5 L964.0,286.0M937.2,299.0 L959.6,298.5" fill="none" stroke="#000" stroke-width="2.4" stroke-linecap="round" stroke-linejoin="round"/>
<path d="M1031.0,282.0 L1042.3,295.0 L1054.0,282.0M1042.3,295.0 L1042.3,308.0" fill="none" stroke="#000" stroke-width="2.4" stroke-linecap="round" stroke-linejoin="round"/>
<path d="M1124.5,446.8 L1127.0,445.6" fill="none" stroke="#000" stroke-width="2.2" stroke-linecap="round" stroke-linejoin="round"/>
<path d="M251.0,831.8C258.9,831.5 282.1,830.5 298.6,829.8C315.1,829.1 327.3,828.2 350.0,827.8C372.7,827.4 420.8,827.5 435.0,827.5" fill="none" stroke="#000" stroke-width="2.6" stroke-linecap="round" stroke-linejoin="round"/>
<path d="M254.9,832.4C254.9,835.4 255.6,844.7 254.9,850.3C254.2,855.9 251.9,862.0 251.0,866.2C250.1,870.4 250.9,873.3 249.6,875.5C248.3,877.7 244.1,878.6 243.0,879.2" fill="none" stroke="#000" stroke-width="2.6" stroke-linecap="round" stroke-linejoin="round"/>
<path d="M243.0,879.2C247.8,879.6 262.5,881.1 272.0,881.4C281.5,881.7 285.5,881.4 300.0,881.0C314.5,880.6 337.9,879.2 359.0,878.8C380.1,878.4 415.3,878.8 426.6,878.8" fill="none" stroke="#000" stroke-width="2.6" stroke-linecap="round" stroke-linejoin="round"/>
<path d="M435.0,828.3C434.9,829.6 435.8,830.3 434.3,836.0C432.8,841.7 427.1,855.4 425.8,862.5C424.5,869.6 426.5,876.1 426.6,878.8" fill="none" stroke="#000" stroke-width="2.6" stroke-linecap="round" stroke-linejoin="round"/>
<path d="M252.3,851.6 L261.5,850.0" fill="none" stroke="#000" stroke-width="2.6" stroke-linecap="round" stroke-linejoin="round"/>
<path d="M253.0,853.0 L253.5,857.0" fill="none" stroke="#000" stroke-width="3.2" stroke-linecap="round" stroke-linejoin="round"/>
<path d="M671.1,884.2C657.1,884.3 605.1,885.2 587.3,885.0C569.4,884.8 570.2,884.4 564.0,882.7C557.8,881.0 553.0,878.5 550.0,874.9C547.0,871.3 547.0,866.2 546.1,861.0C545.2,855.8 546.3,849.4 544.6,843.9C542.9,838.4 541.8,834.3 536.0,828.3C530.2,822.3 520.5,814.3 509.6,808.1C498.7,801.9 483.7,795.6 470.8,791.0C457.9,786.4 443.6,782.4 432.0,780.2C420.4,778.0 408.0,777.9 401.0,777.9C394.0,777.9 396.0,778.0 390.0,780.2C384.0,782.4 371.9,787.1 365.2,791.0C358.5,794.9 353.8,798.8 349.7,803.5C345.6,808.2 342.2,815.1 340.4,819.0C338.6,822.9 339.1,825.5 338.8,826.8" fill="none" stroke="#e23a2e" stroke-width="2.6" stroke-linecap="round" stroke-linejoin="round"/>
<path d="M329.5,818.2C330.0,820.4 331.1,828.0 332.6,831.4C334.2,834.8 335.2,838.9 338.8,838.4C342.4,837.9 348.9,831.1 354.3,828.3C359.7,825.4 368.5,822.5 371.4,821.3" fill="none" stroke="#e23a2e" stroke-width="2.6" stroke-linecap="round" stroke-linejoin="round"/>
<path d="M140.4,963.5C151.4,962.9 189.7,961.0 206.5,960.0C223.3,959.0 231.2,958.0 241.3,957.4C251.5,956.8 260.0,956.8 267.4,956.5C274.8,956.2 282.6,955.8 285.6,955.6" fill="none" stroke="#000" stroke-width="2.6" stroke-linecap="round" stroke-linejoin="round"/>
<path d="M285.6,955.6C286.3,957.3 289.1,961.4 290.0,966.0C290.9,970.6 290.7,978.6 290.8,983.5C290.9,988.4 290.8,993.6 290.8,995.6" fill="none" stroke="#000" stroke-width="2.6" stroke-linecap="round" stroke-linejoin="round"/>
<path d="M135.2,1001.7C141.3,1001.9 159.8,1003.0 171.7,1002.6C183.6,1002.2 194.9,999.8 206.5,999.1C218.1,998.4 227.2,998.9 241.3,998.3C255.4,997.7 282.6,996.0 290.8,995.6" fill="none" stroke="#000" stroke-width="2.6" stroke-linecap="round" stroke-linejoin="round"/>
<path d="M137.0,969.6L137.8,995.6" fill="none" stroke="#000" stroke-width="2.6" stroke-linecap="round" stroke-linejoin="round"/>
<path d="M117.8,987.8 L118.2,988.2" fill="none" stroke="#000" stroke-width="2.4" stroke-linecap="round" stroke-linejoin="round"/>
<path d="M440.8,983.6C451.0,983.4 480.4,983.1 502.2,982.4C524.0,981.7 554.9,980.2 571.7,979.4C588.5,978.6 597.8,978.1 603.0,977.8" fill="none" stroke="#000" stroke-width="2.6" stroke-linecap="round" stroke-linejoin="round"/>
<path d="M439.7,990.5L438.5,1023.0" fill="none" stroke="#000" stroke-width="2.6" stroke-linecap="round" stroke-linejoin="round"/>
<path d="M603.0,977.8C603.2,980.7 604.4,987.9 604.2,995.0C604.0,1002.1 602.3,1016.3 601.9,1020.6" fill="none" stroke="#000" stroke-width="2.6" stroke-linecap="round" stroke-linejoin="round"/>
<path d="M439.7,1027.6C450.1,1027.6 484.0,1028.3 502.2,1027.6C520.4,1026.9 529.5,1024.3 548.6,1023.4C567.7,1022.5 605.6,1022.5 617.0,1022.3" fill="none" stroke="#000" stroke-width="2.6" stroke-linecap="round" stroke-linejoin="round"/>
<path d="M298.6,882.0C293.5,887.5 275.7,907.7 268.2,915.2C260.7,922.7 257.1,922.4 253.6,927.1C250.1,931.9 248.1,940.9 247.0,943.7" fill="none" stroke="#000" stroke-width="2.6" stroke-linecap="round" stroke-linejoin="round"/>
<path d="M234.4,936.4C234.4,938.6 230.8,948.7 234.4,949.6C238.1,950.5 249.0,943.6 256.3,941.7C263.6,939.8 274.5,939.0 278.1,938.4" fill="none" stroke="#000" stroke-width="2.6" stroke-linecap="round" stroke-linejoin="round"/>
<path d="M243.0,937.0 L246.3,945.0" fill="none" stroke="#000" stroke-width="2.6" stroke-linecap="round" stroke-linejoin="round"/>
<path d="M385.2,882.7C397.0,888.7 436.0,908.3 455.9,918.7C475.8,929.1 494.5,939.1 504.5,945.3C514.5,951.5 511.1,952.8 516.1,955.7C521.1,958.6 531.6,961.5 534.7,962.7" fill="none" stroke="#000" stroke-width="2.6" stroke-linecap="round" stroke-linejoin="round"/>
<path d="M515.0,963.9C516.4,964.9 519.8,968.4 523.1,969.7C526.4,971.1 532.8,971.6 534.7,972.0" fill="none" stroke="#000" stroke-width="2.6" stroke-linecap="round" stroke-linejoin="round"/>
<path d="M544.0,946.5C543.6,949.2 542.4,958.8 541.6,962.7C540.8,966.6 539.7,968.5 539.3,969.7" fill="none" stroke="#000" stroke-width="2.6" stroke-linecap="round" stroke-linejoin="round"/>
<path d="M69.1,1083.5C77.5,1083.0 100.8,1081.1 119.6,1080.8C138.4,1080.5 171.8,1081.5 182.2,1081.7" fill="none" stroke="#000" stroke-width="2.6" stroke-linecap="round" stroke-linejoin="round"/>
<path d="M68.3,1086.0C68.7,1089.5 69.8,1100.5 70.9,1107.0C72.1,1113.5 74.5,1122.2 75.2,1125.2" fill="none" stroke="#000" stroke-width="2.6" stroke-linecap="round" stroke-linejoin="round"/>
<path d="M84.8,1132.0C88.6,1131.5 94.4,1129.1 107.4,1128.7C120.4,1128.3 149.5,1129.1 163.0,1129.5C176.5,1129.9 184.0,1131.0 188.2,1131.3" fill="none" stroke="#000" stroke-width="2.6" stroke-linecap="round" stroke-linejoin="round"/>
<path d="M182.2,1081.7C182.6,1083.0 184.4,1084.1 184.8,1089.5C185.2,1094.9 184.2,1106.9 184.8,1113.9C185.4,1120.9 187.6,1128.4 188.2,1131.3" fill="none" stroke="#000" stroke-width="2.6" stroke-linecap="round" stroke-linejoin="round"/>
<path d="M247.4,1075.6C252.2,1074.9 265.4,1072.6 276.0,1071.3C286.6,1070.0 301.1,1068.3 310.8,1067.8C320.5,1067.3 330.4,1068.2 334.3,1068.3" fill="none" stroke="#000" stroke-width="2.6" stroke-linecap="round" stroke-linejoin="round"/>
<path d="M334.3,1068.3C334.6,1070.1 335.7,1072.5 336.0,1079.0C336.3,1085.5 335.4,1101.2 336.0,1107.0C336.6,1112.8 338.9,1112.8 339.5,1113.9" fill="none" stroke="#000" stroke-width="2.6" stroke-linecap="round" stroke-linejoin="round"/>
<path d="M235.2,1125.2C244.9,1124.3 276.0,1121.9 293.4,1120.0C310.8,1118.1 331.8,1114.9 339.5,1113.9" fill="none" stroke="#000" stroke-width="2.6" stroke-linecap="round" stroke-linejoin="round"/>
<path d="M238.7,1083.5L239.5,1120.8" fill="none" stroke="#000" stroke-width="2.6" stroke-linecap="round" stroke-linejoin="round"/>
<path d="M358.5,1100.6C368.2,1100.6 395.6,1101.4 416.5,1100.6C437.4,1099.8 472.5,1096.8 483.7,1096.0" fill="none" stroke="#000" stroke-width="2.6" stroke-linecap="round" stroke-linejoin="round"/>
<path d="M484.8,1096.0L486.0,1131.9" fill="none" stroke="#000" stroke-width="2.6" stroke-linecap="round" stroke-linejoin="round"/>
<path d="M347.0,1135.4C361.3,1135.4 409.5,1136.0 432.7,1135.4C455.9,1134.8 477.1,1132.5 486.0,1131.9" fill="none" stroke="#000" stroke-width="2.6" stroke-linecap="round" stroke-linejoin="round"/>
<path d="M357.4,1108.7L351.6,1134.2" fill="none" stroke="#000" stroke-width="2.6" stroke-linecap="round" stroke-linejoin="round"/>
<path d="M576.4,1092.5C583.4,1092.7 593.8,1093.8 618.1,1093.6C642.4,1093.4 705.0,1091.7 722.4,1091.3" fill="none" stroke="#000" stroke-width="2.6" stroke-linecap="round" stroke-linejoin="round"/>
<path d="M723.6,1091.3C723.8,1094.6 724.9,1105.2 724.7,1111.0C724.5,1116.8 722.8,1123.5 722.4,1126.0" fill="none" stroke="#000" stroke-width="2.6" stroke-linecap="round" stroke-linejoin="round"/>
<path d="M572.9,1096.0C572.3,1098.5 569.8,1105.6 569.4,1111.0C569.0,1116.4 570.4,1125.5 570.6,1128.4" fill="none" stroke="#000" stroke-width="2.6" stroke-linecap="round" stroke-linejoin="round"/>
<path d="M570.6,1128.4C582.4,1128.4 616.0,1128.8 641.3,1128.4C666.6,1128.0 708.9,1126.4 722.4,1126.0" fill="none" stroke="#000" stroke-width="2.6" stroke-linecap="round" stroke-linejoin="round"/>
<path d="M169.1,1003.5C165.5,1010.3 154.1,1032.7 147.4,1044.3C140.7,1055.9 132.2,1068.2 129.1,1073.0" fill="none" stroke="#000" stroke-width="2.6" stroke-linecap="round" stroke-linejoin="round"/>
<path d="M118.7,1063.5C118.2,1065.8 112.4,1075.7 116.0,1077.4C119.6,1079.1 136.3,1074.5 140.4,1073.9" fill="none" stroke="#000" stroke-width="2.6" stroke-linecap="round" stroke-linejoin="round"/>
<path d="M230.8,1000.0C231.7,1002.5 231.1,1007.1 236.0,1014.8C240.9,1022.5 254.0,1037.6 260.4,1046.0C266.8,1054.4 272.0,1062.0 274.3,1065.2" fill="none" stroke="#000" stroke-width="2.6" stroke-linecap="round" stroke-linejoin="round"/>
<path d="M250.8,1064.3C252.1,1064.9 254.6,1066.8 258.7,1067.8C262.8,1068.8 271.0,1072.2 275.2,1070.0C279.4,1067.8 282.4,1057.3 283.9,1054.8" fill="none" stroke="#000" stroke-width="2.6" stroke-linecap="round" stroke-linejoin="round"/>
<path d="M473.3,1026.4C470.0,1032.0 460.8,1049.8 453.6,1060.0C446.5,1070.2 434.3,1083.2 430.4,1087.8" fill="none" stroke="#000" stroke-width="2.6" stroke-linecap="round" stroke-linejoin="round"/>
<path d="M410.7,1087.8C411.9,1086.5 416.5,1077.8 417.6,1079.7C418.8,1081.6 417.6,1096.1 417.6,1099.4" fill="none" stroke="#000" stroke-width="2.6" stroke-linecap="round" stroke-linejoin="round"/>
<path d="M417.6,1099.4C420.1,1098.4 427.9,1094.9 432.7,1093.6C437.5,1092.2 444.3,1091.7 446.6,1091.3" fill="none" stroke="#000" stroke-width="2.6" stroke-linecap="round" stroke-linejoin="round"/>
<path d="M564.8,1027.6C571.8,1031.8 595.7,1045.8 606.5,1053.1C617.3,1060.4 625.5,1067.5 629.7,1071.6C634.0,1075.6 631.6,1076.4 632.0,1077.4" fill="none" stroke="#000" stroke-width="2.6" stroke-linecap="round" stroke-linejoin="round"/>
<path d="M617.0,1082.0C617.8,1081.0 616.4,1075.1 621.6,1076.3C626.8,1077.5 643.8,1086.9 648.2,1089.0" fill="none" stroke="#000" stroke-width="2.6" stroke-linecap="round" stroke-linejoin="round"/>
<path d="M648.2,1067.0L651.7,1087.8" fill="none" stroke="#000" stroke-width="2.6" stroke-linecap="round" stroke-linejoin="round"/>
<path d="M666.0,804.0C681.2,804.5 718.2,807.3 757.0,807.0C795.8,806.7 843.5,805.5 899.0,802.0C954.5,798.5 1058.2,788.7 1090.0,786.0" fill="none" stroke="#000" stroke-width="2.6" stroke-linecap="round" stroke-linejoin="round"/>
<path d="M1090.0,786.0C1090.5,788.0 1092.8,789.3 1093.0,798.0C1093.2,806.7 1092.2,823.7 1091.0,838.0C1089.8,852.3 1086.8,876.3 1086.0,884.0" fill="none" stroke="#000" stroke-width="2.6" stroke-linecap="round" stroke-linejoin="round"/>
<path d="M666.0,804.0L668.0,898.0" fill="none" stroke="#000" stroke-width="2.6" stroke-linecap="round" stroke-linejoin="round"/>
<path d="M668.0,848.0C682.8,847.8 706.7,849.0 757.0,847.0C807.3,845.0 914.3,837.8 970.0,836.0C1025.7,834.2 1070.8,836.0 1091.0,836.0" fill="none" stroke="#000" stroke-width="2.6" stroke-linecap="round" stroke-linejoin="round"/>
<path d="M668.0,898.0C688.7,897.5 740.5,896.5 792.0,895.0C843.5,893.5 927.7,890.8 977.0,889.0C1026.3,887.2 1069.5,884.8 1088.0,884.0" fill="none" stroke="#000" stroke-width="2.6" stroke-linecap="round" stroke-linejoin="round"/>
<path d="M764.0,811.0L760.0,887.0" fill="none" stroke="#000" stroke-width="2.6" stroke-linecap="round" stroke-linejoin="round"/>
<path d="M874.0,806.0C873.7,811.8 872.0,826.5 872.0,841.0C872.0,855.5 873.7,884.3 874.0,893.0" fill="none" stroke="#000" stroke-width="2.6" stroke-linecap="round" stroke-linejoin="round"/>
<path d="M977.0,802.0C977.0,807.3 977.5,819.8 977.0,834.0C976.5,848.2 974.5,878.2 974.0,887.0" fill="none" stroke="#000" stroke-width="2.6" stroke-linecap="round" stroke-linejoin="round"/>
<path d="M693.8,823.4C692.9,823.0 690.4,820.6 688.6,821.0C686.7,821.4 683.1,824.1 682.5,826.0C682.0,827.9 683.7,831.7 685.1,832.6C686.6,833.5 689.7,832.7 691.2,831.4C692.6,830.1 693.4,826.1 693.8,825.0M693.8,821.0L694.6,833.0M709.9,823.4C709.0,823.0 706.5,820.7 704.7,821.0C702.8,821.3 699.1,823.8 698.6,825.4C698.2,827.0 700.3,830.0 702.0,830.6C703.8,831.2 707.9,829.3 709.1,829.0M709.9,821.0C709.9,823.5 710.6,832.7 709.9,836.0C709.2,839.3 707.6,840.1 706.0,840.6C704.3,841.1 701.2,839.3 700.2,839.0M714.7,827.0C716.5,826.8 724.3,827.0 725.5,826.0C726.7,825.0 723.7,821.5 722.1,821.0C720.4,820.5 716.7,821.7 715.5,823.0C714.3,824.3 714.1,827.3 714.7,829.0C715.4,830.7 717.6,832.6 719.4,833.0C721.3,833.4 724.9,831.7 726.0,831.4" fill="none" stroke="#000" stroke-width="2.4" stroke-linecap="round" stroke-linejoin="round"/>
<path d="M779.2,819.7 L779.2,834.7M779.2,813.2 L779.5,813.8M784.9,819.7L784.9,834.7M784.9,825.2C785.7,824.3 788.2,820.0 789.9,819.7C791.6,819.4 794.0,821.0 794.9,823.5C795.8,826.0 795.3,832.8 795.4,834.7M811.0,822.2C810.2,821.8 807.8,819.1 806.0,819.7C804.3,820.3 800.7,823.5 800.3,826.0C799.9,828.4 801.8,833.1 803.5,834.2C805.3,835.3 809.8,833.0 811.0,832.7M821.1,819.7C820.7,819.8 819.6,819.9 818.9,820.3C818.3,820.6 817.6,821.2 817.1,821.9C816.6,822.6 816.2,823.4 815.9,824.3C815.6,825.2 815.4,826.2 815.4,827.2C815.4,828.2 815.6,829.2 815.9,830.1C816.2,831.0 816.6,831.8 817.1,832.5C817.6,833.2 818.3,833.8 818.9,834.1C819.6,834.5 820.4,834.7 821.1,834.7C821.8,834.7 822.6,834.5 823.2,834.1C823.9,833.8 824.5,833.2 825.1,832.5C825.6,831.8 826.0,831.0 826.3,830.1C826.5,829.2 826.7,828.2 826.7,827.2C826.7,826.2 826.5,825.2 826.3,824.3C826.0,823.4 825.6,822.6 825.1,821.9C824.5,821.2 823.9,820.6 823.2,820.3C822.6,819.9 821.4,819.8 821.1,819.7M831.1,819.7L831.1,834.7M831.1,825.2C831.7,824.3 833.6,820.0 834.8,819.7C836.1,819.4 837.9,821.0 838.6,823.5C839.3,826.0 839.0,832.8 839.1,834.7M839.1,824.7C839.7,823.9 841.6,819.9 842.8,819.7C844.1,819.5 845.9,821.0 846.6,823.5C847.3,826.0 847.0,832.8 847.1,834.7M852.2,827.2C854.0,827.0 861.3,827.2 862.5,826.0C863.7,824.7 860.8,820.3 859.2,819.7C857.7,819.1 854.2,820.5 853.0,822.2C851.8,823.9 851.6,827.6 852.2,829.7C852.9,831.8 855.0,834.2 856.7,834.7C858.5,835.2 862.0,833.0 863.0,832.7" fill="none" stroke="#000" stroke-width="2.4" stroke-linecap="round" stroke-linejoin="round"/>
<path d="M908.7,822.0C907.8,821.8 904.9,820.7 903.1,821.0C901.3,821.3 898.1,822.7 898.0,823.6C897.9,824.5 900.7,825.7 902.5,826.6C904.3,827.5 908.2,827.9 908.7,829.0C909.3,830.1 907.8,832.5 905.9,833.0C904.0,833.5 898.8,832.2 897.4,832.0M912.9,827.0C914.8,826.8 923.2,827.0 924.5,826.0C925.8,825.0 922.6,821.5 920.8,821.0C919.0,820.5 915.1,821.7 913.7,823.0C912.4,824.3 912.2,827.3 912.9,829.0C913.6,830.7 916.0,832.6 918.0,833.0C920.0,833.4 923.9,831.7 925.1,831.4M928.1,821.0 L940.0,833.0M940.0,821.0 L928.1,833.0" fill="none" stroke="#000" stroke-width="2.4" stroke-linecap="round" stroke-linejoin="round"/>
<path d="M990.5,813.5L990.5,825.3M990.5,817.8C991.1,817.1 993.0,813.7 994.3,813.5C995.6,813.3 997.4,814.5 998.1,816.4C998.8,818.4 998.5,823.8 998.6,825.3M998.6,817.4C999.3,816.8 1001.2,813.6 1002.4,813.5C1003.7,813.3 1005.5,814.5 1006.2,816.4C1007.0,818.4 1006.7,823.8 1006.7,825.3M1021.4,815.8C1020.5,815.4 1018.1,813.1 1016.3,813.5C1014.5,813.9 1011.0,816.5 1010.5,818.4C1009.9,820.3 1011.6,824.0 1013.0,824.9C1014.4,825.8 1017.4,825.0 1018.8,823.7C1020.2,822.5 1021.0,818.5 1021.4,817.4M1021.4,813.5L1022.1,825.3M1025.6,813.5L1025.6,825.3M1025.6,817.4C1026.2,816.8 1028.1,814.0 1029.4,813.5C1030.7,813.0 1032.6,814.3 1033.2,814.5M1036.2,813.5L1036.2,825.3M1036.2,817.4C1036.8,816.8 1038.7,814.0 1040.0,813.5C1041.2,813.0 1043.1,814.3 1043.8,814.5M1048.0,813.5 L1048.0,825.3M1048.0,808.4 L1048.3,809.0M1052.7,819.4C1054.5,819.2 1062.0,819.4 1063.1,818.4C1064.3,817.4 1061.5,814.0 1059.8,813.5C1058.2,813.0 1054.7,814.1 1053.5,815.4C1052.3,816.8 1052.1,819.7 1052.7,821.4C1053.4,823.0 1055.5,824.9 1057.3,825.3C1059.1,825.7 1062.6,824.0 1063.7,823.7M1078.0,815.8C1077.2,815.4 1074.8,813.1 1073.0,813.5C1071.1,813.9 1067.7,816.5 1067.1,818.4C1066.6,820.3 1068.3,824.0 1069.7,824.9C1071.1,825.8 1074.1,825.0 1075.5,823.7C1076.9,822.5 1077.6,818.5 1078.0,817.4M1078.3,805.6L1078.8,825.3" fill="none" stroke="#000" stroke-width="2.4" stroke-linecap="round" stroke-linejoin="round"/>
<path d="M685.0,868.8C686.8,868.5 692.5,866.9 696.0,867.0C699.4,867.1 704.4,868.6 705.6,869.7C706.8,870.8 705.3,872.9 703.2,873.8C701.0,874.7 692.2,874.4 692.6,875.1C693.0,875.8 703.4,876.6 705.6,877.8C707.7,879.0 707.2,881.1 705.6,882.3C704.0,883.5 699.6,884.8 696.0,885.0C692.4,885.2 686.0,883.8 684.0,883.6M734.6,867.0C731.4,867.0 719.0,865.6 715.4,867.0C711.9,868.4 711.9,874.0 713.5,875.1C715.1,876.2 721.5,873.4 725.0,873.8C728.5,874.3 733.6,876.2 734.6,877.8C735.6,879.4 733.2,882.4 730.8,883.6C728.4,884.8 723.6,885.1 720.2,885.0C716.9,884.9 712.2,883.5 710.7,883.2" fill="none" stroke="#000" stroke-width="2.4" stroke-linecap="round" stroke-linejoin="round"/>
<path d="M780.6,865.3 L774.4,877.0 L787.9,877.0M784.7,870.7 L784.7,883.3M796.8,870.0C796.4,870.1 795.2,870.2 794.4,870.5C793.7,870.8 793.0,871.3 792.4,871.9C791.9,872.5 791.4,873.3 791.1,874.1C790.8,874.9 790.6,875.8 790.6,876.6C790.6,877.5 790.8,878.4 791.1,879.2C791.4,880.0 791.9,880.7 792.4,881.3C793.0,882.0 793.7,882.5 794.4,882.8C795.2,883.1 796.0,883.3 796.8,883.3C797.6,883.3 798.4,883.1 799.2,882.8C799.9,882.5 800.6,882.0 801.2,881.3C801.7,880.7 802.2,880.0 802.5,879.2C802.8,878.4 803.0,877.5 803.0,876.6C803.0,875.8 802.8,874.9 802.5,874.1C802.2,873.3 801.7,872.5 801.2,871.9C800.6,871.3 799.9,870.8 799.2,870.5C798.4,870.2 797.2,870.1 796.8,870.0M811.8,870.0C811.4,870.1 810.2,870.2 809.5,870.5C808.7,870.8 808.0,871.3 807.5,871.9C806.9,872.5 806.4,873.3 806.1,874.1C805.8,874.9 805.7,875.8 805.7,876.6C805.7,877.5 805.8,878.4 806.1,879.2C806.4,880.0 806.9,880.7 807.5,881.3C808.0,882.0 808.7,882.5 809.5,882.8C810.2,883.1 811.0,883.3 811.8,883.3C812.6,883.3 813.4,883.1 814.2,882.8C814.9,882.5 815.6,882.0 816.2,881.3C816.7,880.7 817.2,880.0 817.5,879.2C817.8,878.4 818.0,877.5 818.0,876.6C818.0,875.8 817.8,874.9 817.5,874.1C817.2,873.3 816.7,872.5 816.2,871.9C815.6,871.3 814.9,870.8 814.2,870.5C813.4,870.2 812.2,870.1 811.8,870.0M826.8,870.0C826.4,870.1 825.2,870.2 824.5,870.5C823.7,870.8 823.0,871.3 822.5,871.9C821.9,872.5 821.4,873.3 821.1,874.1C820.8,874.9 820.7,875.8 820.7,876.6C820.7,877.5 820.8,878.4 821.1,879.2C821.4,880.0 821.9,880.7 822.5,881.3C823.0,882.0 823.7,882.5 824.5,882.8C825.2,883.1 826.0,883.3 826.8,883.3C827.6,883.3 828.5,883.1 829.2,882.8C829.9,882.5 830.6,882.0 831.2,881.3C831.7,880.7 832.2,880.0 832.5,879.2C832.8,878.4 833.0,877.5 833.0,876.6C833.0,875.8 832.8,874.9 832.5,874.1C832.2,873.3 831.7,872.5 831.2,871.9C830.6,871.3 829.9,870.8 829.2,870.5C828.5,870.2 827.2,870.1 826.8,870.0M841.8,870.0C841.5,870.1 840.2,870.2 839.5,870.5C838.8,870.8 838.0,871.3 837.5,871.9C836.9,872.5 836.5,873.3 836.2,874.1C835.9,874.9 835.7,875.8 835.7,876.6C835.7,877.5 835.9,878.4 836.2,879.2C836.5,880.0 836.9,880.7 837.5,881.3C838.0,882.0 838.8,882.5 839.5,882.8C840.2,883.1 841.1,883.3 841.8,883.3C842.6,883.3 843.5,883.1 844.2,882.8C844.9,882.5 845.6,882.0 846.2,881.3C846.8,880.7 847.2,880.0 847.5,879.2C847.8,878.4 848.0,877.5 848.0,876.6C848.0,875.8 847.8,874.9 847.5,874.1C847.2,873.3 846.8,872.5 846.2,871.9C845.6,871.3 844.9,870.8 844.2,870.5C843.5,870.2 842.2,870.1 841.8,870.0" fill="none" stroke="#000" stroke-width="2.4" stroke-linecap="round" stroke-linejoin="round"/>
<path d="M900.7,859.6 L900.0,878.2M900.7,859.6 L916.0,859.2M900.7,868.7 L913.5,868.3" fill="none" stroke="#000" stroke-width="2.4" stroke-linecap="round" stroke-linejoin="round"/>
<path d="M1007.6,868.8 L1008.5,849.8 L1028.1,868.8 L1029.0,849.8" fill="none" stroke="#000" stroke-width="2.4" stroke-linecap="round" stroke-linejoin="round"/>
<path d="M810.0,984.0C830.8,982.5 890.5,978.0 935.0,975.0C979.5,972.0 1053.3,967.5 1077.0,966.0" fill="none" stroke="#000" stroke-width="2.6" stroke-linecap="round" stroke-linejoin="round"/>
<path d="M807.0,987.0C808.7,996.2 815.3,1024.8 817.0,1042.0C818.7,1059.2 818.2,1069.2 817.0,1090.0C815.8,1110.8 811.2,1154.2 810.0,1167.0" fill="none" stroke="#000" stroke-width="2.6" stroke-linecap="round" stroke-linejoin="round"/>
<path d="M1077.0,966.0C1077.3,974.8 1079.5,982.5 1079.0,1019.0C1078.5,1055.5 1074.8,1157.3 1074.0,1185.0" fill="none" stroke="#000" stroke-width="2.6" stroke-linecap="round" stroke-linejoin="round"/>
<path d="M817.0,1042.0L1066.0,1035.0" fill="none" stroke="#000" stroke-width="2.6" stroke-linecap="round" stroke-linejoin="round"/>
<path d="M808.0,1183.0C829.2,1183.3 889.8,1185.8 935.0,1185.0C980.2,1184.2 1055.0,1179.2 1079.0,1178.0" fill="none" stroke="#000" stroke-width="2.6" stroke-linecap="round" stroke-linejoin="round"/>
<path d="M869.0,1001.8L869.0,1021.5M869.0,1009.1C869.9,1007.9 872.6,1002.2 874.5,1001.8C876.3,1001.5 878.9,1003.5 879.9,1006.8C881.0,1010.0 880.5,1019.0 880.6,1021.5M880.6,1008.4C881.6,1007.3 884.3,1002.1 886.1,1001.8C887.9,1001.6 890.5,1003.5 891.6,1006.8C892.6,1010.0 892.2,1019.0 892.3,1021.5M915.2,1005.8C914.0,1005.1 910.5,1001.1 907.9,1001.8C905.3,1002.6 900.4,1006.9 899.6,1010.0C898.8,1013.2 901.2,1019.4 903.2,1020.8C905.2,1022.3 909.6,1021.0 911.6,1018.9C913.6,1016.8 914.6,1010.1 915.2,1008.4M915.2,1001.8L916.3,1021.5M923.2,1001.8L923.2,1021.5M923.2,1008.4C924.1,1007.3 926.9,1002.7 928.7,1001.8C930.5,1001.0 933.2,1003.2 934.1,1003.5M940.3,1001.8L940.3,1021.5M940.3,1008.4C941.2,1007.3 944.0,1002.7 945.8,1001.8C947.6,1001.0 950.3,1003.2 951.2,1003.5M959.2,1001.8 L959.2,1021.5M959.2,991.0 L959.2,991.8M968.0,1011.7C970.5,1011.4 981.2,1011.7 982.9,1010.0C984.6,1008.4 980.5,1002.7 978.2,1001.8C975.9,1001.0 970.8,1002.9 969.1,1005.1C967.4,1007.3 967.1,1012.2 968.0,1014.9C968.9,1017.7 971.9,1020.8 974.5,1021.5C977.1,1022.2 982.1,1019.3 983.6,1018.9M1006.2,1005.8C1005.0,1005.1 1001.5,1001.1 998.9,1001.8C996.3,1002.6 991.3,1006.9 990.5,1010.0C989.7,1013.2 992.2,1019.4 994.2,1020.8C996.2,1022.3 1000.5,1021.0 1002.5,1018.9C1004.5,1016.8 1005.6,1010.1 1006.2,1008.4M1006.5,985.1L1007.3,1021.5" fill="none" stroke="#000" stroke-width="2.4" stroke-linecap="round" stroke-linejoin="round"/>
<path d="M846.0,1065.0 L854.9,1081.5 L864.1,1065.0M854.9,1081.5 L854.9,1098.0M870.9,1088.1C873.1,1087.8 882.9,1088.1 884.4,1086.5C886.0,1084.8 882.2,1079.0 880.1,1078.2C878.0,1077.4 873.4,1079.3 871.9,1081.5C870.3,1083.7 870.1,1088.7 870.9,1091.4C871.7,1094.2 874.5,1097.3 876.8,1098.0C879.2,1098.7 883.7,1095.8 885.1,1095.4M904.3,1079.8C903.2,1079.6 899.8,1077.8 897.7,1078.2C895.6,1078.6 891.9,1081.0 891.8,1082.5C891.7,1084.0 895.0,1086.0 897.1,1087.4C899.2,1088.9 903.7,1089.6 904.3,1091.4C905.0,1093.2 903.2,1097.2 901.0,1098.0C898.8,1098.8 892.8,1096.6 891.1,1096.3" fill="none" stroke="#000" stroke-width="2.4" stroke-linecap="round" stroke-linejoin="round"/>
<path d="M988.0,1096.0 L989.0,1065.0 L1010.9,1096.0 L1011.9,1065.0M1027.3,1077.4C1026.6,1077.5 1024.4,1077.7 1023.1,1078.1C1021.9,1078.6 1020.6,1079.3 1019.7,1080.1C1018.7,1081.0 1017.9,1082.0 1017.3,1083.1C1016.8,1084.2 1016.5,1085.5 1016.5,1086.7C1016.5,1087.9 1016.8,1089.2 1017.3,1090.3C1017.9,1091.4 1018.7,1092.4 1019.7,1093.3C1020.6,1094.1 1021.9,1094.8 1023.1,1095.3C1024.4,1095.7 1025.9,1096.0 1027.3,1096.0C1028.6,1096.0 1030.1,1095.7 1031.4,1095.3C1032.6,1094.8 1033.9,1094.1 1034.9,1093.3C1035.8,1092.4 1036.7,1091.4 1037.2,1090.3C1037.7,1089.2 1038.0,1087.9 1038.0,1086.7C1038.0,1085.5 1037.7,1084.2 1037.2,1083.1C1036.7,1082.0 1035.8,1081.0 1034.9,1080.1C1033.9,1079.3 1032.6,1078.6 1031.4,1078.1C1030.1,1077.7 1027.9,1077.5 1027.3,1077.4" fill="none" stroke="#000" stroke-width="2.4" stroke-linecap="round" stroke-linejoin="round"/>
<path d="M862.8,1143.0C863.4,1142.3 864.8,1139.8 866.6,1139.0C868.4,1138.2 871.2,1137.7 873.5,1138.0C875.7,1138.3 879.7,1139.5 880.3,1141.0C881.0,1142.5 880.3,1144.2 877.3,1147.0C874.2,1149.8 861.0,1156.2 862.0,1158.0C863.0,1159.8 879.5,1157.7 883.0,1157.6" fill="none" stroke="#000" stroke-width="2.4" stroke-linecap="round" stroke-linejoin="round"/>
<path d="M990.8,1130.0 L988.9,1144.0 L988.4,1158.0M996.9,1132.8C998.8,1132.3 1004.5,1129.8 1008.0,1130.0C1011.4,1130.2 1016.4,1132.4 1017.6,1134.2C1018.8,1136.0 1017.4,1139.2 1015.2,1140.6C1013.0,1142.0 1004.2,1141.6 1004.6,1142.6C1005.0,1143.6 1015.4,1144.9 1017.6,1146.8C1019.8,1148.7 1019.2,1151.9 1017.6,1153.8C1016.0,1155.7 1011.6,1157.7 1008.0,1158.0C1004.4,1158.3 998.0,1156.1 996.0,1155.8" fill="none" stroke="#000" stroke-width="2.4" stroke-linecap="round" stroke-linejoin="round"/>
<text x="1823.5" y="243.6" font-family="Liberation Sans" font-size="48" font-weight="normal" fill="#111" stroke="#fff" stroke-width="0.4" textLength="374.5" lengthAdjust="spacingAndGlyphs">Test Sample Input</text>
<line x1="1994.6" y1="259.3" x2="1625.7" y2="376.8" stroke="#3a3a3a" stroke-width="2"/>
<path d="M1609.5,382.0 L1623.0,368.3 L1628.4,385.4Z" fill="#3a3a3a"/>
<line x1="1994.6" y1="259.3" x2="1994.6" y2="364.0" stroke="#3a3a3a" stroke-width="2"/>
<path d="M1994.6,379.0 L1985.0,364.0 L2004.2,364.0Z" fill="#3a3a3a"/>
<line x1="1994.6" y1="259.3" x2="2212.5" y2="416.6" stroke="#3a3a3a" stroke-width="2"/>
<path d="M2226.3,426.5 L2207.0,424.3 L2218.1,408.8Z" fill="#3a3a3a"/>
<line x1="1994.6" y1="259.3" x2="2492.5" y2="377.1" stroke="#3a3a3a" stroke-width="2"/>
<path d="M2509.0,381.0 L2490.4,385.8 L2494.5,368.3Z" fill="#3a3a3a"/>
<text x="1481.0" y="408.3" font-family="Liberation Sans" font-size="33" font-weight="normal" fill="#222" stroke="#fff" stroke-width="0.4" textLength="86.7" lengthAdjust="spacingAndGlyphs">Tree 1</text>
<text x="1869.0" y="408.3" font-family="Liberation Sans" font-size="33" font-weight="normal" fill="#222" stroke="#fff" stroke-width="0.4" textLength="86.0" lengthAdjust="spacingAndGlyphs">Tree 2</text>
<text x="2356.0" y="408.3" font-family="Liberation Sans" font-size="33" font-weight="normal" fill="#222" stroke="#fff" stroke-width="0.4" textLength="126.0" lengthAdjust="spacingAndGlyphs">Tree 600</text>
<text x="2177.0" y="463.0" font-family="Liberation Sans" font-size="44" font-weight="normal" fill="#111" stroke="#fff" stroke-width="0.4" textLength="99.0" lengthAdjust="spacingAndGlyphs">(. . .)</text>
<text x="2193.5" y="698.5" font-family="Liberation Sans" font-size="43" font-weight="normal" fill="#111" stroke="#fff" stroke-width="0.4" textLength="99.3" lengthAdjust="spacingAndGlyphs">(. . .)</text>
<line x1="1601.3" y1="398.6" x2="1514" y2="476" stroke="#878787" stroke-width="2.0"/>
<line x1="1601.3" y1="398.6" x2="1664.8" y2="476.2" stroke="#3a3a3a" stroke-width="2.4"/>
<line x1="1514" y1="476" x2="1456" y2="558" stroke="#878787" stroke-width="2.0"/>
<line x1="1514" y1="476" x2="1553" y2="558" stroke="#878787" stroke-width="2.0"/>
<line x1="1664.8" y1="476.2" x2="1631" y2="558" stroke="#878787" stroke-width="2.0"/>
<line x1="1664.8" y1="476.2" x2="1723" y2="560" stroke="#3a3a3a" stroke-width="2.4"/>
<circle cx="1601.3" cy="398.6" r="18" fill="#646364" stroke="#3a3a3a" stroke-width="2"/>
<circle cx="1514" cy="476" r="18" fill="#a9a9a9" stroke="#858585" stroke-width="2"/>
<circle cx="1664.8" cy="476.2" r="18" fill="#646364" stroke="#3a3a3a" stroke-width="2"/>
<circle cx="1456" cy="558" r="18" fill="#a9a9a9" stroke="#858585" stroke-width="2"/>
<circle cx="1553" cy="558" r="18" fill="#a9a9a9" stroke="#858585" stroke-width="2"/>
<circle cx="1631" cy="558" r="18" fill="#a9a9a9" stroke="#858585" stroke-width="2"/>
<circle cx="1723" cy="560" r="18" fill="#646364" stroke="#3a3a3a" stroke-width="2"/>
<line x1="1994.6" y1="398.6" x2="1906" y2="482" stroke="#3a3a3a" stroke-width="2.4"/>
<line x1="1994.6" y1="398.6" x2="2057" y2="476" stroke="#878787" stroke-width="2.0"/>
<line x1="1906" y1="482" x2="1852" y2="558" stroke="#878787" stroke-width="2.0"/>
<line x1="1906" y1="482" x2="1944.9" y2="559" stroke="#3a3a3a" stroke-width="2.4"/>
<line x1="2057" y1="476" x2="2023" y2="558" stroke="#878787" stroke-width="2.0"/>
<line x1="2057" y1="476" x2="2117" y2="558" stroke="#878787" stroke-width="2.0"/>
<circle cx="1994.6" cy="398.6" r="18" fill="#646364" stroke="#3a3a3a" stroke-width="2"/>
<circle cx="1906" cy="482" r="18" fill="#646364" stroke="#3a3a3a" stroke-width="2"/>
<circle cx="2057" cy="476" r="18" fill="#a9a9a9" stroke="#858585" stroke-width="2"/>
<circle cx="1852" cy="558" r="18" fill="#a9a9a9" stroke="#858585" stroke-width="2"/>
<circle cx="1944.9" cy="559" r="18" fill="#646364" stroke="#3a3a3a" stroke-width="2"/>
<circle cx="2023" cy="558" r="18" fill="#a9a9a9" stroke="#858585" stroke-width="2"/>
<circle cx="2117" cy="558" r="18" fill="#a9a9a9" stroke="#858585" stroke-width="2"/>
<line x1="2516" y1="398" x2="2428" y2="476" stroke="#878787" stroke-width="2.0"/>
<line x1="2516" y1="398" x2="2580" y2="476" stroke="#3a3a3a" stroke-width="2.4"/>
<line x1="2428" y1="476" x2="2370" y2="558" stroke="#878787" stroke-width="2.0"/>
<line x1="2428" y1="476" x2="2468" y2="558" stroke="#878787" stroke-width="2.0"/>
<line x1="2580" y1="476" x2="2546.5" y2="558" stroke="#3a3a3a" stroke-width="2.4"/>
<line x1="2580" y1="476" x2="2638" y2="560" stroke="#878787" stroke-width="2.0"/>
<circle cx="2516" cy="398" r="18" fill="#646364" stroke="#3a3a3a" stroke-width="2"/>
<circle cx="2428" cy="476" r="18" fill="#a9a9a9" stroke="#858585" stroke-width="2"/>
<circle cx="2580" cy="476" r="18" fill="#646364" stroke="#3a3a3a" stroke-width="2"/>
<circle cx="2370" cy="558" r="18" fill="#a9a9a9" stroke="#858585" stroke-width="2"/>
<circle cx="2468" cy="558" r="18" fill="#a9a9a9" stroke="#858585" stroke-width="2"/>
<circle cx="2546.5" cy="558" r="18" fill="#646364" stroke="#3a3a3a" stroke-width="2"/>
<circle cx="2638" cy="560" r="18" fill="#a9a9a9" stroke="#858585" stroke-width="2"/>
<line x1="1709.5332474914565" y1="573.4032300910503" x2="1640.4" y2="642.2" stroke="#333" stroke-width="4"/>
<path d="M1617.0,665.5 L1627.0,628.8 L1653.8,655.7Z" fill="#333"/>
<line x1="1942.9953303387836" y1="577.904291403849" x2="1937.5" y2="632.4" stroke="#333" stroke-width="4"/>
<path d="M1934.2,665.2 L1917.8,630.4 L1957.2,634.4Z" fill="#333"/>
<line x1="2546.5" y1="577.0" x2="2546.5" y2="632.2" stroke="#333" stroke-width="4"/>
<path d="M2546.5,665.2 L2527.0,632.2 L2566.0,632.2Z" fill="#333"/>
<line x1="2228" y1="477" x2="2238.0" y2="645.0" stroke="#3a3a3a" stroke-width="2"/>
<path d="M2239.0,662.0 L2228.0,645.6 L2248.0,644.4Z" fill="#3a3a3a"/>
<line x1="1619" y1="711.8" x2="2066.2" y2="778.5" stroke="#333" stroke-width="2"/>
<path d="M2083.0,781.0 L2064.9,787.4 L2067.5,769.6Z" fill="#333"/>
<line x1="1934" y1="711.8" x2="2067.6" y2="773.8" stroke="#333" stroke-width="2"/>
<path d="M2083.0,781.0 L2063.8,782.0 L2071.4,765.7Z" fill="#333"/>
<line x1="2239" y1="711.7" x2="2113.3" y2="773.5" stroke="#333" stroke-width="2"/>
<path d="M2098.0,781.0 L2109.3,765.4 L2117.2,781.6Z" fill="#333"/>
<line x1="2545" y1="711.7" x2="2114.8" y2="778.4" stroke="#333" stroke-width="2"/>
<path d="M2098.0,781.0 L2113.4,769.5 L2116.2,787.3Z" fill="#333"/>
<line x1="2092.5" y1="866" x2="2092.5" y2="894.6" stroke="#333" stroke-width="2"/>
<path d="M2092.5,911.6 L2082.5,894.6 L2102.5,894.6Z" fill="#333"/>
<rect x="1505.8" y="666.5" width="207.9" height="44.7" fill="#dedfe1" stroke="#555" stroke-width="2.2"/>
<rect x="1828.7" y="666.5" width="207.7" height="44.7" fill="#dedfe1" stroke="#555" stroke-width="2.2"/>
<rect x="2420.1" y="666.5" width="250.2" height="44.7" fill="#dedfe1" stroke="#555" stroke-width="2.2"/>
<rect x="1862.3" y="782.4" width="461.2" height="82.7" fill="#dedfe1" stroke="#555" stroke-width="2.2"/>
<rect x="1922.7" y="913.5" width="341.2" height="97.6" fill="#dedfe1" stroke="#555" stroke-width="2.2"/>
<text x="1519.0" y="699.2" font-family="Liberation Sans" font-size="32" font-weight="bold" fill="#0a0a0a" textLength="181.3" lengthAdjust="spacingAndGlyphs">Prediction 1</text>
<text x="1843.0" y="699.2" font-family="Liberation Sans" font-size="32" font-weight="bold" fill="#0a0a0a" textLength="180.0" lengthAdjust="spacingAndGlyphs">Prediction 2</text>
<text x="2433.5" y="699.2" font-family="Liberation Sans" font-size="32" font-weight="bold" fill="#0a0a0a" textLength="222.5" lengthAdjust="spacingAndGlyphs">Prediction 600</text>
<text x="1918.2" y="833.5" font-family="Liberation Sans" font-size="32" font-weight="bold" fill="#0a0a0a" textLength="347.2" lengthAdjust="spacingAndGlyphs">Average All Predictions</text>
<text x="1964.5" y="951.8" font-family="Liberation Sans" font-size="34" font-weight="bold" fill="#0a0a0a" textLength="256.8" lengthAdjust="spacingAndGlyphs">Random Forest</text>
<text x="2008.0" y="995.3" font-family="Liberation Sans" font-size="34" font-weight="bold" fill="#0a0a0a" textLength="169.5" lengthAdjust="spacingAndGlyphs">Prediction</text>
</svg></body></html>
